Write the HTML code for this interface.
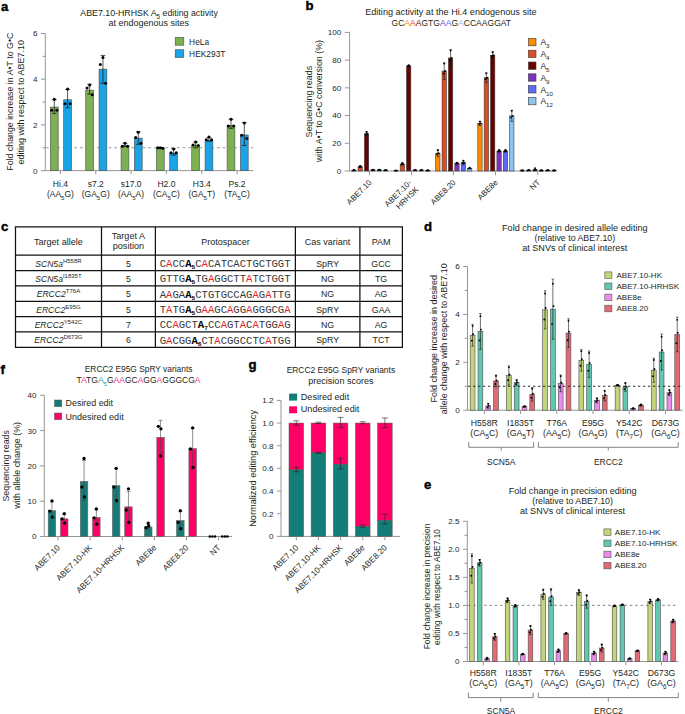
<!DOCTYPE html>
<html><head><meta charset="utf-8"><title>Figure</title>
<style>html,body{margin:0;padding:0;background:#fff;} svg{display:block;}</style>
</head><body>
<svg width="685" height="714" viewBox="0 0 685 714" font-family="Liberation Sans, sans-serif">
<rect width="685" height="714" fill="#fff"/>
<text x="1.00" y="10.50" font-size="13.2" fill="#000" text-anchor="start" font-family="Liberation Sans" font-weight="bold" stroke="#000" stroke-width="0.4">a</text>
<text x="305.60" y="10.40" font-size="13.2" fill="#000" text-anchor="start" font-family="Liberation Sans" font-weight="bold" stroke="#000" stroke-width="0.4">b</text>
<text x="1.00" y="230.50" font-size="13.2" fill="#000" text-anchor="start" font-family="Liberation Sans" font-weight="bold" stroke="#000" stroke-width="0.4">c</text>
<text x="424.00" y="230.70" font-size="13.2" fill="#000" text-anchor="start" font-family="Liberation Sans" font-weight="bold" stroke="#000" stroke-width="0.4">d</text>
<text x="424.00" y="489.00" font-size="13.2" fill="#000" text-anchor="start" font-family="Liberation Sans" font-weight="bold" stroke="#000" stroke-width="0.4">e</text>
<text x="0.50" y="373.80" font-size="13.2" fill="#000" text-anchor="start" font-family="Liberation Sans" font-weight="bold" stroke="#000" stroke-width="0.4">f</text>
<text x="248.60" y="369.00" font-size="13.2" fill="#000" text-anchor="start" font-family="Liberation Sans" font-weight="bold" stroke="#000" stroke-width="0.4">g</text>
<line x1="45.30" y1="33.50" x2="45.30" y2="170.60" stroke="#8a8a8a" stroke-width="0.9"/>
<line x1="41.00" y1="170.60" x2="45.30" y2="170.60" stroke="#8a8a8a" stroke-width="0.9"/>
<text x="37.50" y="173.50" font-size="8.1" fill="#262626" text-anchor="end" font-family="Liberation Sans" >0</text>
<line x1="41.00" y1="124.90" x2="45.30" y2="124.90" stroke="#8a8a8a" stroke-width="0.9"/>
<text x="37.50" y="127.80" font-size="8.1" fill="#262626" text-anchor="end" font-family="Liberation Sans" >2</text>
<line x1="41.00" y1="79.20" x2="45.30" y2="79.20" stroke="#8a8a8a" stroke-width="0.9"/>
<text x="37.50" y="82.10" font-size="8.1" fill="#262626" text-anchor="end" font-family="Liberation Sans" >4</text>
<line x1="41.00" y1="33.50" x2="45.30" y2="33.50" stroke="#8a8a8a" stroke-width="0.9"/>
<text x="37.50" y="36.40" font-size="8.1" fill="#262626" text-anchor="end" font-family="Liberation Sans" >6</text>
<line x1="42.50" y1="147.75" x2="45.30" y2="147.75" stroke="#8a8a8a" stroke-width="0.9"/>
<line x1="42.50" y1="102.05" x2="45.30" y2="102.05" stroke="#8a8a8a" stroke-width="0.9"/>
<line x1="42.50" y1="56.35" x2="45.30" y2="56.35" stroke="#8a8a8a" stroke-width="0.9"/>
<line x1="45.30" y1="170.60" x2="253.30" y2="170.60" stroke="#8a8a8a" stroke-width="0.9"/>
<line x1="45.80" y1="147.75" x2="253.30" y2="147.75" stroke="#999" stroke-width="1.1" stroke-dasharray="2.8,2.9"/>
<rect x="50.40" y="107.08" width="7.80" height="63.52" fill="#7db052" stroke="#4a4a4a" stroke-width="0.6"/>
<line x1="54.30" y1="113.47" x2="54.30" y2="99.76" stroke="#111" stroke-width="0.7"/>
<line x1="51.90" y1="99.76" x2="56.70" y2="99.76" stroke="#111" stroke-width="0.7"/>
<line x1="51.90" y1="113.47" x2="56.70" y2="113.47" stroke="#111" stroke-width="0.7"/>
<circle cx="54.30" cy="99.31" r="1.5" fill="#000"/>
<circle cx="51.70" cy="110.28" r="1.5" fill="#000"/>
<circle cx="56.90" cy="110.28" r="1.5" fill="#000"/>
<rect x="63.70" y="99.76" width="7.80" height="70.84" fill="#1ba3e8" stroke="#4a4a4a" stroke-width="0.6"/>
<line x1="67.60" y1="107.76" x2="67.60" y2="89.48" stroke="#111" stroke-width="0.7"/>
<line x1="65.20" y1="89.48" x2="70.00" y2="89.48" stroke="#111" stroke-width="0.7"/>
<line x1="65.20" y1="107.76" x2="70.00" y2="107.76" stroke="#111" stroke-width="0.7"/>
<circle cx="67.60" cy="89.03" r="1.5" fill="#000"/>
<circle cx="65.00" cy="103.65" r="1.5" fill="#000"/>
<circle cx="70.20" cy="103.65" r="1.5" fill="#000"/>
<line x1="60.40" y1="170.60" x2="60.40" y2="174.20" stroke="#8a8a8a" stroke-width="0.9"/>
<rect x="85.74" y="90.17" width="7.80" height="80.43" fill="#7db052" stroke="#4a4a4a" stroke-width="0.6"/>
<line x1="89.64" y1="94.05" x2="89.64" y2="84.23" stroke="#111" stroke-width="0.7"/>
<line x1="87.24" y1="84.23" x2="92.04" y2="84.23" stroke="#111" stroke-width="0.7"/>
<line x1="87.24" y1="94.05" x2="92.04" y2="94.05" stroke="#111" stroke-width="0.7"/>
<circle cx="89.64" cy="84.91" r="1.5" fill="#000"/>
<circle cx="87.04" cy="87.88" r="1.5" fill="#000"/>
<circle cx="92.24" cy="94.74" r="1.5" fill="#000"/>
<rect x="99.04" y="69.15" width="7.80" height="101.45" fill="#1ba3e8" stroke="#4a4a4a" stroke-width="0.6"/>
<line x1="102.94" y1="83.31" x2="102.94" y2="55.44" stroke="#111" stroke-width="0.7"/>
<line x1="100.54" y1="55.44" x2="105.34" y2="55.44" stroke="#111" stroke-width="0.7"/>
<line x1="100.54" y1="83.31" x2="105.34" y2="83.31" stroke="#111" stroke-width="0.7"/>
<circle cx="102.94" cy="57.49" r="1.5" fill="#000"/>
<circle cx="100.34" cy="64.58" r="1.5" fill="#000"/>
<circle cx="105.54" cy="83.31" r="1.5" fill="#000"/>
<line x1="95.74" y1="170.60" x2="95.74" y2="174.20" stroke="#8a8a8a" stroke-width="0.9"/>
<rect x="121.08" y="145.46" width="7.80" height="25.14" fill="#7db052" stroke="#4a4a4a" stroke-width="0.6"/>
<line x1="124.98" y1="146.61" x2="124.98" y2="143.18" stroke="#111" stroke-width="0.7"/>
<line x1="122.58" y1="143.18" x2="127.38" y2="143.18" stroke="#111" stroke-width="0.7"/>
<line x1="122.58" y1="146.61" x2="127.38" y2="146.61" stroke="#111" stroke-width="0.7"/>
<circle cx="124.98" cy="143.18" r="1.5" fill="#000"/>
<circle cx="122.38" cy="146.15" r="1.5" fill="#000"/>
<circle cx="127.58" cy="146.15" r="1.5" fill="#000"/>
<rect x="134.38" y="138.15" width="7.80" height="32.45" fill="#1ba3e8" stroke="#4a4a4a" stroke-width="0.6"/>
<line x1="138.28" y1="144.32" x2="138.28" y2="131.75" stroke="#111" stroke-width="0.7"/>
<line x1="135.88" y1="131.75" x2="140.68" y2="131.75" stroke="#111" stroke-width="0.7"/>
<line x1="135.88" y1="144.32" x2="140.68" y2="144.32" stroke="#111" stroke-width="0.7"/>
<circle cx="138.28" cy="132.21" r="1.5" fill="#000"/>
<circle cx="135.68" cy="137.47" r="1.5" fill="#000"/>
<circle cx="140.88" cy="143.18" r="1.5" fill="#000"/>
<line x1="131.08" y1="170.60" x2="131.08" y2="174.20" stroke="#8a8a8a" stroke-width="0.9"/>
<rect x="156.42" y="148.21" width="7.80" height="22.39" fill="#7db052" stroke="#4a4a4a" stroke-width="0.6"/>
<line x1="160.32" y1="148.44" x2="160.32" y2="147.52" stroke="#111" stroke-width="0.7"/>
<line x1="157.92" y1="147.52" x2="162.72" y2="147.52" stroke="#111" stroke-width="0.7"/>
<line x1="157.92" y1="148.44" x2="162.72" y2="148.44" stroke="#111" stroke-width="0.7"/>
<circle cx="160.32" cy="147.75" r="1.5" fill="#000"/>
<circle cx="157.72" cy="147.75" r="1.5" fill="#000"/>
<circle cx="162.92" cy="148.21" r="1.5" fill="#000"/>
<rect x="169.72" y="153.23" width="7.80" height="17.37" fill="#1ba3e8" stroke="#4a4a4a" stroke-width="0.6"/>
<line x1="173.62" y1="155.06" x2="173.62" y2="148.89" stroke="#111" stroke-width="0.7"/>
<line x1="171.22" y1="148.89" x2="176.02" y2="148.89" stroke="#111" stroke-width="0.7"/>
<line x1="171.22" y1="155.06" x2="176.02" y2="155.06" stroke="#111" stroke-width="0.7"/>
<circle cx="173.62" cy="148.89" r="1.5" fill="#000"/>
<circle cx="171.02" cy="152.78" r="1.5" fill="#000"/>
<circle cx="176.22" cy="152.78" r="1.5" fill="#000"/>
<line x1="166.42" y1="170.60" x2="166.42" y2="174.20" stroke="#8a8a8a" stroke-width="0.9"/>
<rect x="191.76" y="145.46" width="7.80" height="25.14" fill="#7db052" stroke="#4a4a4a" stroke-width="0.6"/>
<line x1="195.66" y1="147.75" x2="195.66" y2="142.04" stroke="#111" stroke-width="0.7"/>
<line x1="193.26" y1="142.04" x2="198.06" y2="142.04" stroke="#111" stroke-width="0.7"/>
<line x1="193.26" y1="147.75" x2="198.06" y2="147.75" stroke="#111" stroke-width="0.7"/>
<circle cx="195.66" cy="142.04" r="1.5" fill="#000"/>
<circle cx="193.06" cy="145.01" r="1.5" fill="#000"/>
<circle cx="198.26" cy="145.46" r="1.5" fill="#000"/>
<rect x="205.06" y="140.44" width="7.80" height="30.16" fill="#1ba3e8" stroke="#4a4a4a" stroke-width="0.6"/>
<line x1="208.96" y1="141.35" x2="208.96" y2="137.47" stroke="#111" stroke-width="0.7"/>
<line x1="206.56" y1="137.47" x2="211.36" y2="137.47" stroke="#111" stroke-width="0.7"/>
<line x1="206.56" y1="141.35" x2="211.36" y2="141.35" stroke="#111" stroke-width="0.7"/>
<circle cx="208.96" cy="137.01" r="1.5" fill="#000"/>
<circle cx="206.36" cy="139.75" r="1.5" fill="#000"/>
<circle cx="211.56" cy="139.75" r="1.5" fill="#000"/>
<line x1="201.76" y1="170.60" x2="201.76" y2="174.20" stroke="#8a8a8a" stroke-width="0.9"/>
<rect x="227.10" y="125.59" width="7.80" height="45.01" fill="#7db052" stroke="#4a4a4a" stroke-width="0.6"/>
<line x1="231.00" y1="128.33" x2="231.00" y2="119.19" stroke="#111" stroke-width="0.7"/>
<line x1="228.60" y1="119.19" x2="233.40" y2="119.19" stroke="#111" stroke-width="0.7"/>
<line x1="228.60" y1="128.33" x2="233.40" y2="128.33" stroke="#111" stroke-width="0.7"/>
<circle cx="231.00" cy="119.19" r="1.5" fill="#000"/>
<circle cx="228.40" cy="126.04" r="1.5" fill="#000"/>
<circle cx="233.60" cy="126.04" r="1.5" fill="#000"/>
<rect x="240.40" y="134.95" width="7.80" height="35.65" fill="#1ba3e8" stroke="#4a4a4a" stroke-width="0.6"/>
<line x1="244.30" y1="145.46" x2="244.30" y2="122.61" stroke="#111" stroke-width="0.7"/>
<line x1="241.90" y1="122.61" x2="246.70" y2="122.61" stroke="#111" stroke-width="0.7"/>
<line x1="241.90" y1="145.46" x2="246.70" y2="145.46" stroke="#111" stroke-width="0.7"/>
<circle cx="244.30" cy="123.07" r="1.5" fill="#000"/>
<circle cx="241.70" cy="135.18" r="1.5" fill="#000"/>
<circle cx="246.90" cy="138.61" r="1.5" fill="#000"/>
<line x1="237.10" y1="170.60" x2="237.10" y2="174.20" stroke="#8a8a8a" stroke-width="0.9"/>
<text x="60.40" y="186.90" font-size="8.5" fill="#231f20" text-anchor="middle" font-family="Liberation Sans" >Hi.4</text>
<text x="60.40" y="196.80" font-size="8.5" fill="#231f20" text-anchor="middle" font-family="Liberation Sans" >(AA<tspan font-size="6.12" baseline-shift="-2.72">5</tspan>G)</text>
<text x="95.74" y="186.90" font-size="8.5" fill="#231f20" text-anchor="middle" font-family="Liberation Sans" >s7.2</text>
<text x="95.74" y="196.80" font-size="8.5" fill="#231f20" text-anchor="middle" font-family="Liberation Sans" >(GA<tspan font-size="6.12" baseline-shift="-2.72">5</tspan>G)</text>
<text x="131.08" y="186.90" font-size="8.5" fill="#231f20" text-anchor="middle" font-family="Liberation Sans" >s17.0</text>
<text x="131.08" y="196.80" font-size="8.5" fill="#231f20" text-anchor="middle" font-family="Liberation Sans" >(AA<tspan font-size="6.12" baseline-shift="-2.72">5</tspan>A)</text>
<text x="166.42" y="186.90" font-size="8.5" fill="#231f20" text-anchor="middle" font-family="Liberation Sans" >H2.0</text>
<text x="166.42" y="196.80" font-size="8.5" fill="#231f20" text-anchor="middle" font-family="Liberation Sans" >(CA<tspan font-size="6.12" baseline-shift="-2.72">5</tspan>C)</text>
<text x="201.76" y="186.90" font-size="8.5" fill="#231f20" text-anchor="middle" font-family="Liberation Sans" >H3.4</text>
<text x="201.76" y="196.80" font-size="8.5" fill="#231f20" text-anchor="middle" font-family="Liberation Sans" >(GA<tspan font-size="6.12" baseline-shift="-2.72">5</tspan>T)</text>
<text x="237.10" y="186.90" font-size="8.5" fill="#231f20" text-anchor="middle" font-family="Liberation Sans" >Ps.2</text>
<text x="237.10" y="196.80" font-size="8.5" fill="#231f20" text-anchor="middle" font-family="Liberation Sans" >(TA<tspan font-size="6.12" baseline-shift="-2.72">5</tspan>C)</text>
<text x="149.10" y="15.90" font-size="8.8" fill="#231f20" text-anchor="middle" font-family="Liberation Sans" >ABE7.10-HRHSK A<tspan font-size="6.34" baseline-shift="-2.82">5</tspan> editing activity</text>
<text x="148.80" y="26.00" font-size="9.0" fill="#231f20" text-anchor="middle" font-family="Liberation Sans" >at endogenous sites</text>
<rect x="175.20" y="37.40" width="8.60" height="7.80" fill="#7db052" stroke="#4a4a4a" stroke-width="0.6"/>
<rect x="175.20" y="49.70" width="8.60" height="7.80" fill="#1ba3e8" stroke="#4a4a4a" stroke-width="0.6"/>
<text x="189.10" y="44.60" font-size="8.4" fill="#231f20" text-anchor="start" font-family="Liberation Sans" >HeLa</text>
<text x="189.10" y="57.00" font-size="8.4" fill="#231f20" text-anchor="start" font-family="Liberation Sans" >HEK293T</text>
<text x="13.40" y="101.70" font-size="8.8" fill="#231f20" text-anchor="middle" font-family="Liberation Sans" transform="rotate(-90 13.40 101.70)" >Fold change increase in A•T to G•C</text>
<text x="24.10" y="102.20" font-size="9.0" fill="#231f20" text-anchor="middle" font-family="Liberation Sans" transform="rotate(-90 24.10 102.20)" >editing with respect to ABE7.10</text>
<line x1="349.60" y1="32.40" x2="349.60" y2="171.00" stroke="#8a8a8a" stroke-width="0.9"/>
<line x1="344.80" y1="171.00" x2="349.60" y2="171.00" stroke="#8a8a8a" stroke-width="0.9"/>
<text x="341.30" y="173.90" font-size="8.1" fill="#262626" text-anchor="end" font-family="Liberation Sans" >0</text>
<line x1="344.80" y1="143.28" x2="349.60" y2="143.28" stroke="#8a8a8a" stroke-width="0.9"/>
<text x="341.30" y="146.18" font-size="8.1" fill="#262626" text-anchor="end" font-family="Liberation Sans" >20</text>
<line x1="344.80" y1="115.56" x2="349.60" y2="115.56" stroke="#8a8a8a" stroke-width="0.9"/>
<text x="341.30" y="118.46" font-size="8.1" fill="#262626" text-anchor="end" font-family="Liberation Sans" >40</text>
<line x1="344.80" y1="87.84" x2="349.60" y2="87.84" stroke="#8a8a8a" stroke-width="0.9"/>
<text x="341.30" y="90.74" font-size="8.1" fill="#262626" text-anchor="end" font-family="Liberation Sans" >60</text>
<line x1="344.80" y1="60.12" x2="349.60" y2="60.12" stroke="#8a8a8a" stroke-width="0.9"/>
<text x="341.30" y="63.02" font-size="8.1" fill="#262626" text-anchor="end" font-family="Liberation Sans" >80</text>
<line x1="344.80" y1="32.40" x2="349.60" y2="32.40" stroke="#8a8a8a" stroke-width="0.9"/>
<text x="341.30" y="35.30" font-size="8.1" fill="#262626" text-anchor="end" font-family="Liberation Sans" >100</text>
<line x1="349.60" y1="171.00" x2="555.50" y2="171.00" stroke="#8a8a8a" stroke-width="0.9"/>
<rect x="351.70" y="170.31" width="4.30" height="0.69" fill="#ff8c00" stroke="#3a3a3a" stroke-width="0.6"/>
<circle cx="353.85" cy="170.06" r="0.95" fill="#000"/>
<circle cx="353.05" cy="170.39" r="0.95" fill="#000"/>
<circle cx="354.65" cy="170.31" r="0.95" fill="#000"/>
<rect x="358.07" y="166.70" width="4.30" height="4.30" fill="#e04a20" stroke="#3a3a3a" stroke-width="0.6"/>
<line x1="360.22" y1="167.53" x2="360.22" y2="165.87" stroke="#111" stroke-width="0.6"/>
<line x1="358.92" y1="165.87" x2="361.52" y2="165.87" stroke="#111" stroke-width="0.6"/>
<line x1="358.92" y1="167.53" x2="361.52" y2="167.53" stroke="#111" stroke-width="0.6"/>
<circle cx="360.22" cy="165.95" r="0.95" fill="#000"/>
<circle cx="359.42" cy="166.95" r="0.95" fill="#000"/>
<circle cx="361.02" cy="166.70" r="0.95" fill="#000"/>
<rect x="364.44" y="133.86" width="4.30" height="37.14" fill="#6b0000" stroke="#3a3a3a" stroke-width="0.6"/>
<line x1="366.59" y1="135.93" x2="366.59" y2="131.78" stroke="#111" stroke-width="0.6"/>
<line x1="365.29" y1="131.78" x2="367.89" y2="131.78" stroke="#111" stroke-width="0.6"/>
<line x1="365.29" y1="135.93" x2="367.89" y2="135.93" stroke="#111" stroke-width="0.6"/>
<circle cx="366.59" cy="131.98" r="0.95" fill="#000"/>
<circle cx="365.79" cy="134.48" r="0.95" fill="#000"/>
<circle cx="367.39" cy="133.86" r="0.95" fill="#000"/>
<rect x="370.81" y="169.89" width="4.30" height="1.11" fill="#7d32c4" stroke="#3a3a3a" stroke-width="0.6"/>
<circle cx="372.96" cy="169.64" r="0.95" fill="#000"/>
<circle cx="372.16" cy="169.97" r="0.95" fill="#000"/>
<circle cx="373.76" cy="169.89" r="0.95" fill="#000"/>
<rect x="377.18" y="169.89" width="4.30" height="1.11" fill="#5a6cf5" stroke="#3a3a3a" stroke-width="0.6"/>
<circle cx="379.33" cy="169.64" r="0.95" fill="#000"/>
<circle cx="378.53" cy="169.97" r="0.95" fill="#000"/>
<circle cx="380.13" cy="169.89" r="0.95" fill="#000"/>
<rect x="383.55" y="170.17" width="4.30" height="0.83" fill="#8cc4f2" stroke="#3a3a3a" stroke-width="0.6"/>
<circle cx="385.70" cy="169.92" r="0.95" fill="#000"/>
<circle cx="384.90" cy="170.25" r="0.95" fill="#000"/>
<circle cx="386.50" cy="170.17" r="0.95" fill="#000"/>
<line x1="369.40" y1="171.00" x2="369.40" y2="175.20" stroke="#8a8a8a" stroke-width="0.9"/>
<rect x="393.80" y="170.58" width="4.30" height="0.42" fill="#ff8c00" stroke="#3a3a3a" stroke-width="0.6"/>
<circle cx="395.95" cy="170.33" r="0.95" fill="#000"/>
<circle cx="395.15" cy="170.67" r="0.95" fill="#000"/>
<circle cx="396.75" cy="170.58" r="0.95" fill="#000"/>
<rect x="400.17" y="164.07" width="4.30" height="6.93" fill="#e04a20" stroke="#3a3a3a" stroke-width="0.6"/>
<line x1="402.32" y1="165.18" x2="402.32" y2="162.96" stroke="#111" stroke-width="0.6"/>
<line x1="401.02" y1="162.96" x2="403.62" y2="162.96" stroke="#111" stroke-width="0.6"/>
<line x1="401.02" y1="165.18" x2="403.62" y2="165.18" stroke="#111" stroke-width="0.6"/>
<circle cx="402.32" cy="163.07" r="0.95" fill="#000"/>
<circle cx="401.52" cy="164.40" r="0.95" fill="#000"/>
<circle cx="403.12" cy="164.07" r="0.95" fill="#000"/>
<rect x="406.54" y="65.94" width="4.30" height="105.06" fill="#6b0000" stroke="#3a3a3a" stroke-width="0.6"/>
<line x1="408.69" y1="66.63" x2="408.69" y2="65.25" stroke="#111" stroke-width="0.6"/>
<line x1="407.39" y1="65.25" x2="409.99" y2="65.25" stroke="#111" stroke-width="0.6"/>
<line x1="407.39" y1="66.63" x2="409.99" y2="66.63" stroke="#111" stroke-width="0.6"/>
<circle cx="408.69" cy="65.32" r="0.95" fill="#000"/>
<circle cx="407.89" cy="66.15" r="0.95" fill="#000"/>
<circle cx="409.49" cy="65.94" r="0.95" fill="#000"/>
<rect x="412.91" y="170.17" width="4.30" height="0.83" fill="#7d32c4" stroke="#3a3a3a" stroke-width="0.6"/>
<circle cx="415.06" cy="169.92" r="0.95" fill="#000"/>
<circle cx="414.26" cy="170.25" r="0.95" fill="#000"/>
<circle cx="415.86" cy="170.17" r="0.95" fill="#000"/>
<rect x="419.28" y="170.17" width="4.30" height="0.83" fill="#5a6cf5" stroke="#3a3a3a" stroke-width="0.6"/>
<circle cx="421.43" cy="169.92" r="0.95" fill="#000"/>
<circle cx="420.63" cy="170.25" r="0.95" fill="#000"/>
<circle cx="422.23" cy="170.17" r="0.95" fill="#000"/>
<rect x="425.65" y="170.45" width="4.30" height="0.55" fill="#8cc4f2" stroke="#3a3a3a" stroke-width="0.6"/>
<circle cx="427.80" cy="170.20" r="0.95" fill="#000"/>
<circle cx="427.00" cy="170.53" r="0.95" fill="#000"/>
<circle cx="428.60" cy="170.45" r="0.95" fill="#000"/>
<line x1="411.50" y1="171.00" x2="411.50" y2="175.20" stroke="#8a8a8a" stroke-width="0.9"/>
<rect x="435.70" y="153.26" width="4.30" height="17.74" fill="#ff8c00" stroke="#3a3a3a" stroke-width="0.6"/>
<line x1="437.85" y1="156.72" x2="437.85" y2="149.79" stroke="#111" stroke-width="0.6"/>
<line x1="436.55" y1="149.79" x2="439.15" y2="149.79" stroke="#111" stroke-width="0.6"/>
<line x1="436.55" y1="156.72" x2="439.15" y2="156.72" stroke="#111" stroke-width="0.6"/>
<circle cx="437.85" cy="150.14" r="0.95" fill="#000"/>
<circle cx="437.05" cy="154.30" r="0.95" fill="#000"/>
<circle cx="438.65" cy="153.26" r="0.95" fill="#000"/>
<rect x="442.07" y="71.07" width="4.30" height="99.93" fill="#e04a20" stroke="#3a3a3a" stroke-width="0.6"/>
<line x1="444.22" y1="79.39" x2="444.22" y2="62.75" stroke="#111" stroke-width="0.6"/>
<line x1="442.92" y1="62.75" x2="445.52" y2="62.75" stroke="#111" stroke-width="0.6"/>
<line x1="442.92" y1="79.39" x2="445.52" y2="79.39" stroke="#111" stroke-width="0.6"/>
<circle cx="444.22" cy="63.59" r="0.95" fill="#000"/>
<circle cx="443.42" cy="73.56" r="0.95" fill="#000"/>
<circle cx="445.02" cy="71.07" r="0.95" fill="#000"/>
<rect x="448.44" y="58.04" width="4.30" height="112.96" fill="#6b0000" stroke="#3a3a3a" stroke-width="0.6"/>
<line x1="450.59" y1="66.36" x2="450.59" y2="49.73" stroke="#111" stroke-width="0.6"/>
<line x1="449.29" y1="49.73" x2="451.89" y2="49.73" stroke="#111" stroke-width="0.6"/>
<line x1="449.29" y1="66.36" x2="451.89" y2="66.36" stroke="#111" stroke-width="0.6"/>
<circle cx="450.59" cy="50.56" r="0.95" fill="#000"/>
<circle cx="449.79" cy="60.54" r="0.95" fill="#000"/>
<circle cx="451.39" cy="58.04" r="0.95" fill="#000"/>
<rect x="454.81" y="163.38" width="4.30" height="7.62" fill="#7d32c4" stroke="#3a3a3a" stroke-width="0.6"/>
<line x1="456.96" y1="164.07" x2="456.96" y2="162.68" stroke="#111" stroke-width="0.6"/>
<line x1="455.66" y1="162.68" x2="458.26" y2="162.68" stroke="#111" stroke-width="0.6"/>
<line x1="455.66" y1="164.07" x2="458.26" y2="164.07" stroke="#111" stroke-width="0.6"/>
<circle cx="456.96" cy="162.75" r="0.95" fill="#000"/>
<circle cx="456.16" cy="163.58" r="0.95" fill="#000"/>
<circle cx="457.76" cy="163.38" r="0.95" fill="#000"/>
<rect x="461.18" y="162.68" width="4.30" height="8.32" fill="#5a6cf5" stroke="#3a3a3a" stroke-width="0.6"/>
<line x1="463.33" y1="164.76" x2="463.33" y2="160.60" stroke="#111" stroke-width="0.6"/>
<line x1="462.03" y1="160.60" x2="464.63" y2="160.60" stroke="#111" stroke-width="0.6"/>
<line x1="462.03" y1="164.76" x2="464.63" y2="164.76" stroke="#111" stroke-width="0.6"/>
<circle cx="463.33" cy="160.81" r="0.95" fill="#000"/>
<circle cx="462.53" cy="163.31" r="0.95" fill="#000"/>
<circle cx="464.13" cy="162.68" r="0.95" fill="#000"/>
<rect x="467.55" y="168.37" width="4.30" height="2.63" fill="#8cc4f2" stroke="#3a3a3a" stroke-width="0.6"/>
<circle cx="469.70" cy="167.74" r="0.95" fill="#000"/>
<circle cx="468.90" cy="168.57" r="0.95" fill="#000"/>
<circle cx="470.50" cy="168.37" r="0.95" fill="#000"/>
<line x1="453.40" y1="171.00" x2="453.40" y2="175.20" stroke="#8a8a8a" stroke-width="0.9"/>
<rect x="477.80" y="123.46" width="4.30" height="47.54" fill="#ff8c00" stroke="#3a3a3a" stroke-width="0.6"/>
<line x1="479.95" y1="125.54" x2="479.95" y2="121.38" stroke="#111" stroke-width="0.6"/>
<line x1="478.65" y1="121.38" x2="481.25" y2="121.38" stroke="#111" stroke-width="0.6"/>
<line x1="478.65" y1="125.54" x2="481.25" y2="125.54" stroke="#111" stroke-width="0.6"/>
<circle cx="479.95" cy="121.59" r="0.95" fill="#000"/>
<circle cx="479.15" cy="124.08" r="0.95" fill="#000"/>
<circle cx="480.75" cy="123.46" r="0.95" fill="#000"/>
<rect x="484.17" y="77.72" width="4.30" height="93.28" fill="#e04a20" stroke="#3a3a3a" stroke-width="0.6"/>
<line x1="486.32" y1="82.57" x2="486.32" y2="72.87" stroke="#111" stroke-width="0.6"/>
<line x1="485.02" y1="72.87" x2="487.62" y2="72.87" stroke="#111" stroke-width="0.6"/>
<line x1="485.02" y1="82.57" x2="487.62" y2="82.57" stroke="#111" stroke-width="0.6"/>
<circle cx="486.32" cy="73.36" r="0.95" fill="#000"/>
<circle cx="485.52" cy="79.18" r="0.95" fill="#000"/>
<circle cx="487.12" cy="77.72" r="0.95" fill="#000"/>
<rect x="490.54" y="55.27" width="4.30" height="115.73" fill="#6b0000" stroke="#3a3a3a" stroke-width="0.6"/>
<line x1="492.69" y1="58.73" x2="492.69" y2="51.80" stroke="#111" stroke-width="0.6"/>
<line x1="491.39" y1="51.80" x2="493.99" y2="51.80" stroke="#111" stroke-width="0.6"/>
<line x1="491.39" y1="58.73" x2="493.99" y2="58.73" stroke="#111" stroke-width="0.6"/>
<circle cx="492.69" cy="52.15" r="0.95" fill="#000"/>
<circle cx="491.89" cy="56.31" r="0.95" fill="#000"/>
<circle cx="493.49" cy="55.27" r="0.95" fill="#000"/>
<rect x="496.91" y="151.04" width="4.30" height="19.96" fill="#7d32c4" stroke="#3a3a3a" stroke-width="0.6"/>
<line x1="499.06" y1="152.15" x2="499.06" y2="149.93" stroke="#111" stroke-width="0.6"/>
<line x1="497.76" y1="149.93" x2="500.36" y2="149.93" stroke="#111" stroke-width="0.6"/>
<line x1="497.76" y1="152.15" x2="500.36" y2="152.15" stroke="#111" stroke-width="0.6"/>
<circle cx="499.06" cy="150.04" r="0.95" fill="#000"/>
<circle cx="498.26" cy="151.37" r="0.95" fill="#000"/>
<circle cx="499.86" cy="151.04" r="0.95" fill="#000"/>
<rect x="503.28" y="151.04" width="4.30" height="19.96" fill="#5a6cf5" stroke="#3a3a3a" stroke-width="0.6"/>
<line x1="505.43" y1="152.15" x2="505.43" y2="149.93" stroke="#111" stroke-width="0.6"/>
<line x1="504.13" y1="149.93" x2="506.73" y2="149.93" stroke="#111" stroke-width="0.6"/>
<line x1="504.13" y1="152.15" x2="506.73" y2="152.15" stroke="#111" stroke-width="0.6"/>
<circle cx="505.43" cy="150.04" r="0.95" fill="#000"/>
<circle cx="504.63" cy="151.37" r="0.95" fill="#000"/>
<circle cx="506.23" cy="151.04" r="0.95" fill="#000"/>
<rect x="509.65" y="115.84" width="4.30" height="55.16" fill="#8cc4f2" stroke="#3a3a3a" stroke-width="0.6"/>
<line x1="511.80" y1="121.38" x2="511.80" y2="110.29" stroke="#111" stroke-width="0.6"/>
<line x1="510.50" y1="110.29" x2="513.10" y2="110.29" stroke="#111" stroke-width="0.6"/>
<line x1="510.50" y1="121.38" x2="513.10" y2="121.38" stroke="#111" stroke-width="0.6"/>
<circle cx="511.80" cy="110.85" r="0.95" fill="#000"/>
<circle cx="511.00" cy="117.50" r="0.95" fill="#000"/>
<circle cx="512.60" cy="115.84" r="0.95" fill="#000"/>
<line x1="495.50" y1="171.00" x2="495.50" y2="175.20" stroke="#8a8a8a" stroke-width="0.9"/>
<rect x="520.10" y="170.45" width="4.30" height="0.55" fill="#ff8c00" stroke="#3a3a3a" stroke-width="0.6"/>
<circle cx="522.25" cy="170.20" r="0.95" fill="#000"/>
<circle cx="521.45" cy="170.53" r="0.95" fill="#000"/>
<circle cx="523.05" cy="170.45" r="0.95" fill="#000"/>
<rect x="526.47" y="170.31" width="4.30" height="0.69" fill="#e04a20" stroke="#3a3a3a" stroke-width="0.6"/>
<circle cx="528.62" cy="169.93" r="0.95" fill="#000"/>
<circle cx="527.82" cy="170.43" r="0.95" fill="#000"/>
<circle cx="529.42" cy="170.31" r="0.95" fill="#000"/>
<rect x="532.84" y="169.75" width="4.30" height="1.25" fill="#6b0000" stroke="#3a3a3a" stroke-width="0.6"/>
<circle cx="534.99" cy="168.26" r="0.95" fill="#000"/>
<circle cx="534.19" cy="170.25" r="0.95" fill="#000"/>
<circle cx="535.79" cy="169.75" r="0.95" fill="#000"/>
<rect x="539.21" y="170.45" width="4.30" height="0.55" fill="#7d32c4" stroke="#3a3a3a" stroke-width="0.6"/>
<circle cx="541.36" cy="170.20" r="0.95" fill="#000"/>
<circle cx="540.56" cy="170.53" r="0.95" fill="#000"/>
<circle cx="542.16" cy="170.45" r="0.95" fill="#000"/>
<rect x="545.58" y="170.31" width="4.30" height="0.69" fill="#5a6cf5" stroke="#3a3a3a" stroke-width="0.6"/>
<circle cx="547.73" cy="170.06" r="0.95" fill="#000"/>
<circle cx="546.93" cy="170.39" r="0.95" fill="#000"/>
<circle cx="548.53" cy="170.31" r="0.95" fill="#000"/>
<rect x="551.95" y="170.45" width="4.30" height="0.55" fill="#8cc4f2" stroke="#3a3a3a" stroke-width="0.6"/>
<circle cx="554.10" cy="170.20" r="0.95" fill="#000"/>
<circle cx="553.30" cy="170.53" r="0.95" fill="#000"/>
<circle cx="554.90" cy="170.45" r="0.95" fill="#000"/>
<line x1="537.80" y1="171.00" x2="537.80" y2="175.20" stroke="#8a8a8a" stroke-width="0.9"/>
<text x="450.90" y="14.70" font-size="9.1" fill="#231f20" text-anchor="middle" font-family="Liberation Sans" >Editing activity at the Hi.4 endogenous site</text>
<text x="451.30" y="26.00" font-size="8.55" fill="#231f20" text-anchor="middle" font-family="Liberation Sans" >GC<tspan fill="#ff8c00">A</tspan><tspan fill="#e04a20">A</tspan><tspan fill="#6b0000">A</tspan>GTG<tspan fill="#7d32c4">A</tspan><tspan fill="#5a6cf5">A</tspan>G<tspan fill="#8cc4f2">A</tspan>CCAAGGAT</text>
<rect x="528.40" y="38.40" width="7.60" height="7.40" fill="#ff8c00" stroke="#3a3a3a" stroke-width="0.6"/>
<text x="540.40" y="45.30" font-size="8.5" fill="#231f20" text-anchor="start" font-family="Liberation Sans" >A<tspan font-size="6.12" baseline-shift="-2.72">3</tspan></text>
<rect x="528.40" y="50.20" width="7.60" height="7.40" fill="#e04a20" stroke="#3a3a3a" stroke-width="0.6"/>
<text x="540.40" y="57.10" font-size="8.5" fill="#231f20" text-anchor="start" font-family="Liberation Sans" >A<tspan font-size="6.12" baseline-shift="-2.72">4</tspan></text>
<rect x="528.40" y="62.00" width="7.60" height="7.40" fill="#6b0000" stroke="#3a3a3a" stroke-width="0.6"/>
<text x="540.40" y="68.90" font-size="8.5" fill="#231f20" text-anchor="start" font-family="Liberation Sans" >A<tspan font-size="6.12" baseline-shift="-2.72">5</tspan></text>
<rect x="528.40" y="73.80" width="7.60" height="7.40" fill="#7d32c4" stroke="#3a3a3a" stroke-width="0.6"/>
<text x="540.40" y="80.70" font-size="8.5" fill="#231f20" text-anchor="start" font-family="Liberation Sans" >A<tspan font-size="6.12" baseline-shift="-2.72">9</tspan></text>
<rect x="528.40" y="85.60" width="7.60" height="7.40" fill="#5a6cf5" stroke="#3a3a3a" stroke-width="0.6"/>
<text x="540.40" y="92.50" font-size="8.5" fill="#231f20" text-anchor="start" font-family="Liberation Sans" >A<tspan font-size="6.12" baseline-shift="-2.72">10</tspan></text>
<rect x="528.40" y="97.40" width="7.60" height="7.40" fill="#8cc4f2" stroke="#3a3a3a" stroke-width="0.6"/>
<text x="540.40" y="104.30" font-size="8.5" fill="#231f20" text-anchor="start" font-family="Liberation Sans" >A<tspan font-size="6.12" baseline-shift="-2.72">12</tspan></text>
<text x="312.00" y="101.70" font-size="8.9" fill="#231f20" text-anchor="middle" font-family="Liberation Sans" transform="rotate(-90 312.00 101.70)" >Sequencing reads</text>
<text x="321.80" y="101.00" font-size="8.85" fill="#231f20" text-anchor="middle" font-family="Liberation Sans" transform="rotate(-90 321.80 101.00)" >with A•T to G•C conversion (%)</text>
<text x="372.20" y="183.00" font-size="8.0" fill="#231f20" text-anchor="end" font-family="Liberation Sans" transform="rotate(-45 372.20 183.00)" >ABE7.10</text>
<text x="412.10" y="183.10" font-size="8.0" fill="#231f20" text-anchor="end" font-family="Liberation Sans" transform="rotate(-45 412.10 183.10)" >ABE7.10-</text>
<text x="419.00" y="190.00" font-size="8.0" fill="#231f20" text-anchor="end" font-family="Liberation Sans" transform="rotate(-45 419.00 190.00)" >HRHSK</text>
<text x="456.20" y="183.00" font-size="8.0" fill="#231f20" text-anchor="end" font-family="Liberation Sans" transform="rotate(-45 456.20 183.00)" >ABE8.20</text>
<text x="498.30" y="183.00" font-size="8.0" fill="#231f20" text-anchor="end" font-family="Liberation Sans" transform="rotate(-45 498.30 183.00)" >ABE8e</text>
<text x="540.60" y="183.00" font-size="8.0" fill="#231f20" text-anchor="end" font-family="Liberation Sans" transform="rotate(-45 540.60 183.00)" >NT</text>
<line x1="14.90" y1="226.90" x2="403.00" y2="226.90" stroke="#111" stroke-width="1.25"/>
<line x1="14.90" y1="255.20" x2="403.00" y2="255.20" stroke="#111" stroke-width="1.25"/>
<line x1="14.90" y1="270.55" x2="403.00" y2="270.55" stroke="#111" stroke-width="1.25"/>
<line x1="14.90" y1="285.90" x2="403.00" y2="285.90" stroke="#111" stroke-width="1.25"/>
<line x1="14.90" y1="301.25" x2="403.00" y2="301.25" stroke="#111" stroke-width="1.25"/>
<line x1="14.90" y1="316.60" x2="403.00" y2="316.60" stroke="#111" stroke-width="1.25"/>
<line x1="14.90" y1="331.95" x2="403.00" y2="331.95" stroke="#111" stroke-width="1.25"/>
<line x1="14.90" y1="347.30" x2="403.00" y2="347.30" stroke="#111" stroke-width="1.25"/>
<line x1="15.50" y1="226.90" x2="15.50" y2="347.30" stroke="#111" stroke-width="1.25"/>
<line x1="101.50" y1="226.90" x2="101.50" y2="347.30" stroke="#111" stroke-width="1.25"/>
<line x1="155.40" y1="226.90" x2="155.40" y2="347.30" stroke="#111" stroke-width="1.25"/>
<line x1="295.40" y1="226.90" x2="295.40" y2="347.30" stroke="#111" stroke-width="1.25"/>
<line x1="359.90" y1="226.90" x2="359.90" y2="347.30" stroke="#111" stroke-width="1.25"/>
<line x1="402.40" y1="226.90" x2="402.40" y2="347.30" stroke="#111" stroke-width="1.25"/>
<text x="58.40" y="244.80" font-size="9.1" fill="#231f20" text-anchor="middle" font-family="Liberation Sans" >Target allele</text>
<text x="128.40" y="238.80" font-size="9.1" fill="#231f20" text-anchor="middle" font-family="Liberation Sans" >Target A</text>
<text x="128.40" y="248.90" font-size="9.1" fill="#231f20" text-anchor="middle" font-family="Liberation Sans" >position</text>
<text x="225.40" y="244.60" font-size="9.0" fill="#231f20" text-anchor="middle" font-family="Liberation Sans" >Protospacer</text>
<text x="327.60" y="244.60" font-size="9.0" fill="#231f20" text-anchor="middle" font-family="Liberation Sans" >Cas variant</text>
<text x="381.10" y="244.60" font-size="9.0" fill="#231f20" text-anchor="middle" font-family="Liberation Sans" >PAM</text>
<text x="58.4" y="266.60" font-size="8.6" fill="#231f20" text-anchor="middle" font-family="Liberation Sans"><tspan font-style="italic">SCN5a</tspan><tspan font-size="6.0" baseline-shift="3.6">H558R</tspan></text>
<text x="128.40" y="266.60" font-size="8.8" fill="#231f20" text-anchor="middle" font-family="Liberation Sans" >5</text>
<text x="327.60" y="266.60" font-size="8.8" fill="#231f20" text-anchor="middle" font-family="Liberation Sans" >SpRY</text>
<text x="381.10" y="266.60" font-size="8.8" fill="#231f20" text-anchor="middle" font-family="Liberation Sans" >GCC</text>
<text x="159.7" y="266.80" font-size="10.6" fill="#383838" font-family="Liberation Mono">C<tspan fill="#e8221f">A</tspan>CC<tspan font-weight="bold" fill="#000">A</tspan><tspan font-size="6.2" baseline-shift="-2.3" font-weight="bold" fill="#000">5</tspan>C<tspan fill="#e8221f">A</tspan>CATCACTGCTGGT</text>
<text x="58.4" y="281.95" font-size="8.6" fill="#231f20" text-anchor="middle" font-family="Liberation Sans"><tspan font-style="italic">SCN5a</tspan><tspan font-size="6.0" baseline-shift="3.6">I1835T</tspan></text>
<text x="128.40" y="281.95" font-size="8.8" fill="#231f20" text-anchor="middle" font-family="Liberation Sans" >5</text>
<text x="327.60" y="281.95" font-size="8.8" fill="#231f20" text-anchor="middle" font-family="Liberation Sans" >NG</text>
<text x="381.10" y="281.95" font-size="8.8" fill="#231f20" text-anchor="middle" font-family="Liberation Sans" >TG</text>
<text x="159.7" y="282.15" font-size="10.6" fill="#383838" font-family="Liberation Mono">GTTG<tspan font-weight="bold" fill="#000">A</tspan><tspan font-size="6.2" baseline-shift="-2.3" font-weight="bold" fill="#000">5</tspan>TG<tspan fill="#e8221f">A</tspan>GGCTT<tspan fill="#e8221f">A</tspan>TCTGGT</text>
<text x="58.4" y="297.30" font-size="8.6" fill="#231f20" text-anchor="middle" font-family="Liberation Sans"><tspan font-style="italic">ERCC2</tspan><tspan font-size="6.0" baseline-shift="3.6">T76A</tspan></text>
<text x="128.40" y="297.30" font-size="8.8" fill="#231f20" text-anchor="middle" font-family="Liberation Sans" >5</text>
<text x="327.60" y="297.30" font-size="8.8" fill="#231f20" text-anchor="middle" font-family="Liberation Sans" >NG</text>
<text x="381.10" y="297.30" font-size="8.8" fill="#231f20" text-anchor="middle" font-family="Liberation Sans" >AG</text>
<text x="159.7" y="297.50" font-size="10.6" fill="#383838" font-family="Liberation Mono">A<tspan fill="#e8221f">A</tspan>GA<tspan font-weight="bold" fill="#000">A</tspan><tspan font-size="6.2" baseline-shift="-2.3" font-weight="bold" fill="#000">5</tspan>CTGTGCCAG<tspan fill="#e8221f">A</tspan>G<tspan fill="#e8221f">A</tspan>TTG</text>
<text x="58.4" y="312.65" font-size="8.6" fill="#231f20" text-anchor="middle" font-family="Liberation Sans"><tspan font-style="italic">ERCC2</tspan><tspan font-size="6.0" baseline-shift="3.6">E95G</tspan></text>
<text x="128.40" y="312.65" font-size="8.8" fill="#231f20" text-anchor="middle" font-family="Liberation Sans" >5</text>
<text x="327.60" y="312.65" font-size="8.8" fill="#231f20" text-anchor="middle" font-family="Liberation Sans" >SpRY</text>
<text x="381.10" y="312.65" font-size="8.8" fill="#231f20" text-anchor="middle" font-family="Liberation Sans" >GAA</text>
<text x="159.7" y="312.85" font-size="10.6" fill="#383838" font-family="Liberation Mono">T<tspan fill="#e8221f">A</tspan>TG<tspan font-weight="bold" fill="#000">A</tspan><tspan font-size="6.2" baseline-shift="-2.3" font-weight="bold" fill="#000">5</tspan>G<tspan fill="#e8221f">A</tspan><tspan fill="#e8221f">A</tspan>GC<tspan fill="#e8221f">A</tspan>GG<tspan fill="#e8221f">A</tspan>GGGCG<tspan fill="#e8221f">A</tspan></text>
<text x="58.4" y="328.00" font-size="8.6" fill="#231f20" text-anchor="middle" font-family="Liberation Sans"><tspan font-style="italic">ERCC2</tspan><tspan font-size="6.0" baseline-shift="3.6">Y542C</tspan></text>
<text x="128.40" y="328.00" font-size="8.8" fill="#231f20" text-anchor="middle" font-family="Liberation Sans" >7</text>
<text x="327.60" y="328.00" font-size="8.8" fill="#231f20" text-anchor="middle" font-family="Liberation Sans" >NG</text>
<text x="381.10" y="328.00" font-size="8.8" fill="#231f20" text-anchor="middle" font-family="Liberation Sans" >AG</text>
<text x="159.7" y="328.20" font-size="10.6" fill="#383838" font-family="Liberation Mono">CC<tspan fill="#e8221f">A</tspan>GCT<tspan font-weight="bold" fill="#000">A</tspan><tspan font-size="6.2" baseline-shift="-2.3" font-weight="bold" fill="#000">7</tspan>CC<tspan fill="#e8221f">A</tspan>GT<tspan fill="#e8221f">A</tspan>C<tspan fill="#e8221f">A</tspan>TGG<tspan fill="#e8221f">A</tspan>G</text>
<text x="58.4" y="343.35" font-size="8.6" fill="#231f20" text-anchor="middle" font-family="Liberation Sans"><tspan font-style="italic">ERCC2</tspan><tspan font-size="6.0" baseline-shift="3.6">D673G</tspan></text>
<text x="128.40" y="343.35" font-size="8.8" fill="#231f20" text-anchor="middle" font-family="Liberation Sans" >6</text>
<text x="327.60" y="343.35" font-size="8.8" fill="#231f20" text-anchor="middle" font-family="Liberation Sans" >SpRY</text>
<text x="381.10" y="343.35" font-size="8.8" fill="#231f20" text-anchor="middle" font-family="Liberation Sans" >TCT</text>
<text x="159.7" y="343.55" font-size="10.6" fill="#383838" font-family="Liberation Mono">G<tspan fill="#e8221f">A</tspan>CGG<tspan font-weight="bold" fill="#000">A</tspan><tspan font-size="6.2" baseline-shift="-2.3" font-weight="bold" fill="#000">6</tspan>CT<tspan fill="#e8221f">A</tspan>CGGCCTC<tspan fill="#e8221f">A</tspan>TGG</text>
<line x1="467.50" y1="266.50" x2="467.50" y2="410.20" stroke="#8a8a8a" stroke-width="0.9"/>
<line x1="463.20" y1="410.20" x2="467.50" y2="410.20" stroke="#8a8a8a" stroke-width="0.9"/>
<text x="459.70" y="413.10" font-size="8.1" fill="#262626" text-anchor="end" font-family="Liberation Sans" >0</text>
<line x1="463.20" y1="362.30" x2="467.50" y2="362.30" stroke="#8a8a8a" stroke-width="0.9"/>
<text x="459.70" y="365.20" font-size="8.1" fill="#262626" text-anchor="end" font-family="Liberation Sans" >2</text>
<line x1="463.20" y1="314.40" x2="467.50" y2="314.40" stroke="#8a8a8a" stroke-width="0.9"/>
<text x="459.70" y="317.30" font-size="8.1" fill="#262626" text-anchor="end" font-family="Liberation Sans" >4</text>
<line x1="463.20" y1="266.50" x2="467.50" y2="266.50" stroke="#8a8a8a" stroke-width="0.9"/>
<text x="459.70" y="269.40" font-size="8.1" fill="#262626" text-anchor="end" font-family="Liberation Sans" >6</text>
<line x1="464.70" y1="386.25" x2="467.50" y2="386.25" stroke="#8a8a8a" stroke-width="0.9"/>
<line x1="464.70" y1="338.35" x2="467.50" y2="338.35" stroke="#8a8a8a" stroke-width="0.9"/>
<line x1="464.70" y1="290.45" x2="467.50" y2="290.45" stroke="#8a8a8a" stroke-width="0.9"/>
<line x1="467.50" y1="410.20" x2="682.80" y2="410.20" stroke="#8a8a8a" stroke-width="0.9"/>
<rect x="470.20" y="335.24" width="4.80" height="74.96" fill="#c2d57a" stroke="#4a4a4a" stroke-width="0.6"/>
<line x1="472.60" y1="346.01" x2="472.60" y2="324.46" stroke="#111" stroke-width="0.6"/>
<line x1="471.40" y1="324.46" x2="473.80" y2="324.46" stroke="#111" stroke-width="0.6"/>
<line x1="471.40" y1="346.01" x2="473.80" y2="346.01" stroke="#111" stroke-width="0.6"/>
<circle cx="472.60" cy="326.08" r="0.95" fill="#000"/>
<circle cx="471.80" cy="340.63" r="0.95" fill="#000"/>
<circle cx="473.20" cy="334.16" r="0.95" fill="#000"/>
<rect x="478.00" y="331.40" width="4.80" height="78.80" fill="#62c7b0" stroke="#4a4a4a" stroke-width="0.6"/>
<line x1="480.40" y1="349.37" x2="480.40" y2="313.44" stroke="#111" stroke-width="0.6"/>
<line x1="479.20" y1="313.44" x2="481.60" y2="313.44" stroke="#111" stroke-width="0.6"/>
<line x1="479.20" y1="349.37" x2="481.60" y2="349.37" stroke="#111" stroke-width="0.6"/>
<circle cx="480.40" cy="316.14" r="0.95" fill="#000"/>
<circle cx="479.60" cy="340.39" r="0.95" fill="#000"/>
<circle cx="481.00" cy="329.61" r="0.95" fill="#000"/>
<rect x="485.80" y="405.89" width="4.80" height="4.31" fill="#e88de9" stroke="#4a4a4a" stroke-width="0.6"/>
<line x1="488.20" y1="408.28" x2="488.20" y2="403.49" stroke="#111" stroke-width="0.6"/>
<line x1="487.00" y1="403.49" x2="489.40" y2="403.49" stroke="#111" stroke-width="0.6"/>
<line x1="487.00" y1="408.28" x2="489.40" y2="408.28" stroke="#111" stroke-width="0.6"/>
<circle cx="488.20" cy="403.85" r="0.95" fill="#000"/>
<circle cx="487.40" cy="407.09" r="0.95" fill="#000"/>
<circle cx="488.80" cy="405.65" r="0.95" fill="#000"/>
<rect x="493.60" y="380.98" width="4.80" height="29.22" fill="#e06b76" stroke="#4a4a4a" stroke-width="0.6"/>
<line x1="496.00" y1="386.97" x2="496.00" y2="374.99" stroke="#111" stroke-width="0.6"/>
<line x1="494.80" y1="374.99" x2="497.20" y2="374.99" stroke="#111" stroke-width="0.6"/>
<line x1="494.80" y1="386.97" x2="497.20" y2="386.97" stroke="#111" stroke-width="0.6"/>
<circle cx="496.00" cy="375.89" r="0.95" fill="#000"/>
<circle cx="495.20" cy="383.97" r="0.95" fill="#000"/>
<circle cx="496.60" cy="380.38" r="0.95" fill="#000"/>
<line x1="484.30" y1="410.20" x2="484.30" y2="414.00" stroke="#8a8a8a" stroke-width="0.9"/>
<rect x="506.44" y="375.47" width="4.80" height="34.73" fill="#c2d57a" stroke="#4a4a4a" stroke-width="0.6"/>
<line x1="508.84" y1="385.05" x2="508.84" y2="365.89" stroke="#111" stroke-width="0.6"/>
<line x1="507.64" y1="365.89" x2="510.04" y2="365.89" stroke="#111" stroke-width="0.6"/>
<line x1="507.64" y1="385.05" x2="510.04" y2="385.05" stroke="#111" stroke-width="0.6"/>
<circle cx="508.84" cy="367.33" r="0.95" fill="#000"/>
<circle cx="508.04" cy="380.26" r="0.95" fill="#000"/>
<circle cx="509.44" cy="374.51" r="0.95" fill="#000"/>
<rect x="514.24" y="382.66" width="4.80" height="27.54" fill="#62c7b0" stroke="#4a4a4a" stroke-width="0.6"/>
<line x1="516.64" y1="385.53" x2="516.64" y2="379.78" stroke="#111" stroke-width="0.6"/>
<line x1="515.44" y1="379.78" x2="517.84" y2="379.78" stroke="#111" stroke-width="0.6"/>
<line x1="515.44" y1="385.53" x2="517.84" y2="385.53" stroke="#111" stroke-width="0.6"/>
<circle cx="516.64" cy="380.21" r="0.95" fill="#000"/>
<circle cx="515.84" cy="384.09" r="0.95" fill="#000"/>
<circle cx="517.24" cy="382.37" r="0.95" fill="#000"/>
<rect x="522.04" y="406.61" width="4.80" height="3.59" fill="#e88de9" stroke="#4a4a4a" stroke-width="0.6"/>
<line x1="524.44" y1="407.09" x2="524.44" y2="406.13" stroke="#111" stroke-width="0.6"/>
<line x1="523.24" y1="406.13" x2="525.64" y2="406.13" stroke="#111" stroke-width="0.6"/>
<line x1="523.24" y1="407.09" x2="525.64" y2="407.09" stroke="#111" stroke-width="0.6"/>
<circle cx="524.44" cy="406.20" r="0.95" fill="#000"/>
<circle cx="523.64" cy="406.85" r="0.95" fill="#000"/>
<circle cx="525.04" cy="406.56" r="0.95" fill="#000"/>
<rect x="529.84" y="394.39" width="4.80" height="15.81" fill="#e06b76" stroke="#4a4a4a" stroke-width="0.6"/>
<line x1="532.24" y1="401.10" x2="532.24" y2="387.69" stroke="#111" stroke-width="0.6"/>
<line x1="531.04" y1="387.69" x2="533.44" y2="387.69" stroke="#111" stroke-width="0.6"/>
<line x1="531.04" y1="401.10" x2="533.44" y2="401.10" stroke="#111" stroke-width="0.6"/>
<circle cx="532.24" cy="388.69" r="0.95" fill="#000"/>
<circle cx="531.44" cy="397.75" r="0.95" fill="#000"/>
<circle cx="532.84" cy="393.72" r="0.95" fill="#000"/>
<line x1="520.54" y1="410.20" x2="520.54" y2="414.00" stroke="#8a8a8a" stroke-width="0.9"/>
<rect x="542.68" y="309.85" width="4.80" height="100.35" fill="#c2d57a" stroke="#4a4a4a" stroke-width="0.6"/>
<line x1="545.08" y1="329.01" x2="545.08" y2="290.69" stroke="#111" stroke-width="0.6"/>
<line x1="543.88" y1="290.69" x2="546.28" y2="290.69" stroke="#111" stroke-width="0.6"/>
<line x1="543.88" y1="329.01" x2="546.28" y2="329.01" stroke="#111" stroke-width="0.6"/>
<circle cx="545.08" cy="293.56" r="0.95" fill="#000"/>
<circle cx="544.28" cy="319.43" r="0.95" fill="#000"/>
<circle cx="545.68" cy="307.93" r="0.95" fill="#000"/>
<rect x="550.48" y="309.13" width="4.80" height="101.07" fill="#62c7b0" stroke="#4a4a4a" stroke-width="0.6"/>
<line x1="552.88" y1="339.07" x2="552.88" y2="279.19" stroke="#111" stroke-width="0.6"/>
<line x1="551.68" y1="279.19" x2="554.08" y2="279.19" stroke="#111" stroke-width="0.6"/>
<line x1="551.68" y1="339.07" x2="554.08" y2="339.07" stroke="#111" stroke-width="0.6"/>
<circle cx="552.88" cy="283.68" r="0.95" fill="#000"/>
<circle cx="552.08" cy="324.10" r="0.95" fill="#000"/>
<circle cx="553.48" cy="306.14" r="0.95" fill="#000"/>
<rect x="558.28" y="383.38" width="4.80" height="26.82" fill="#e88de9" stroke="#4a4a4a" stroke-width="0.6"/>
<line x1="560.68" y1="391.76" x2="560.68" y2="374.99" stroke="#111" stroke-width="0.6"/>
<line x1="559.48" y1="374.99" x2="561.88" y2="374.99" stroke="#111" stroke-width="0.6"/>
<line x1="559.48" y1="391.76" x2="561.88" y2="391.76" stroke="#111" stroke-width="0.6"/>
<circle cx="560.68" cy="376.25" r="0.95" fill="#000"/>
<circle cx="559.88" cy="387.57" r="0.95" fill="#000"/>
<circle cx="561.28" cy="382.54" r="0.95" fill="#000"/>
<rect x="566.08" y="333.08" width="4.80" height="77.12" fill="#e06b76" stroke="#4a4a4a" stroke-width="0.6"/>
<line x1="568.48" y1="347.45" x2="568.48" y2="318.71" stroke="#111" stroke-width="0.6"/>
<line x1="567.28" y1="318.71" x2="569.68" y2="318.71" stroke="#111" stroke-width="0.6"/>
<line x1="567.28" y1="347.45" x2="569.68" y2="347.45" stroke="#111" stroke-width="0.6"/>
<circle cx="568.48" cy="320.87" r="0.95" fill="#000"/>
<circle cx="567.68" cy="340.27" r="0.95" fill="#000"/>
<circle cx="569.08" cy="331.64" r="0.95" fill="#000"/>
<line x1="556.78" y1="410.20" x2="556.78" y2="414.00" stroke="#8a8a8a" stroke-width="0.9"/>
<rect x="578.92" y="360.38" width="4.80" height="49.82" fill="#c2d57a" stroke="#4a4a4a" stroke-width="0.6"/>
<line x1="581.32" y1="371.16" x2="581.32" y2="349.61" stroke="#111" stroke-width="0.6"/>
<line x1="580.12" y1="349.61" x2="582.52" y2="349.61" stroke="#111" stroke-width="0.6"/>
<line x1="580.12" y1="371.16" x2="582.52" y2="371.16" stroke="#111" stroke-width="0.6"/>
<circle cx="581.32" cy="351.22" r="0.95" fill="#000"/>
<circle cx="580.52" cy="365.77" r="0.95" fill="#000"/>
<circle cx="581.92" cy="359.31" r="0.95" fill="#000"/>
<rect x="586.72" y="364.22" width="4.80" height="45.98" fill="#62c7b0" stroke="#4a4a4a" stroke-width="0.6"/>
<line x1="589.12" y1="377.39" x2="589.12" y2="351.04" stroke="#111" stroke-width="0.6"/>
<line x1="587.92" y1="351.04" x2="590.32" y2="351.04" stroke="#111" stroke-width="0.6"/>
<line x1="587.92" y1="377.39" x2="590.32" y2="377.39" stroke="#111" stroke-width="0.6"/>
<circle cx="589.12" cy="353.02" r="0.95" fill="#000"/>
<circle cx="588.32" cy="370.80" r="0.95" fill="#000"/>
<circle cx="589.72" cy="362.90" r="0.95" fill="#000"/>
<rect x="594.52" y="400.38" width="4.80" height="9.82" fill="#e88de9" stroke="#4a4a4a" stroke-width="0.6"/>
<line x1="596.92" y1="402.78" x2="596.92" y2="397.99" stroke="#111" stroke-width="0.6"/>
<line x1="595.72" y1="397.99" x2="598.12" y2="397.99" stroke="#111" stroke-width="0.6"/>
<line x1="595.72" y1="402.78" x2="598.12" y2="402.78" stroke="#111" stroke-width="0.6"/>
<circle cx="596.92" cy="398.34" r="0.95" fill="#000"/>
<circle cx="596.12" cy="401.58" r="0.95" fill="#000"/>
<circle cx="597.52" cy="400.14" r="0.95" fill="#000"/>
<rect x="602.32" y="395.59" width="4.80" height="14.61" fill="#e06b76" stroke="#4a4a4a" stroke-width="0.6"/>
<line x1="604.72" y1="400.86" x2="604.72" y2="390.32" stroke="#111" stroke-width="0.6"/>
<line x1="603.52" y1="390.32" x2="605.92" y2="390.32" stroke="#111" stroke-width="0.6"/>
<line x1="603.52" y1="400.86" x2="605.92" y2="400.86" stroke="#111" stroke-width="0.6"/>
<circle cx="604.72" cy="391.11" r="0.95" fill="#000"/>
<circle cx="603.92" cy="398.22" r="0.95" fill="#000"/>
<circle cx="605.32" cy="395.06" r="0.95" fill="#000"/>
<line x1="593.02" y1="410.20" x2="593.02" y2="414.00" stroke="#8a8a8a" stroke-width="0.9"/>
<rect x="615.16" y="385.29" width="4.80" height="24.91" fill="#c2d57a" stroke="#4a4a4a" stroke-width="0.6"/>
<line x1="617.56" y1="385.77" x2="617.56" y2="384.81" stroke="#111" stroke-width="0.6"/>
<line x1="616.36" y1="384.81" x2="618.76" y2="384.81" stroke="#111" stroke-width="0.6"/>
<line x1="616.36" y1="385.77" x2="618.76" y2="385.77" stroke="#111" stroke-width="0.6"/>
<circle cx="617.56" cy="384.88" r="0.95" fill="#000"/>
<circle cx="616.76" cy="385.53" r="0.95" fill="#000"/>
<circle cx="618.16" cy="385.24" r="0.95" fill="#000"/>
<rect x="622.96" y="386.97" width="4.80" height="23.23" fill="#62c7b0" stroke="#4a4a4a" stroke-width="0.6"/>
<line x1="625.36" y1="391.28" x2="625.36" y2="382.66" stroke="#111" stroke-width="0.6"/>
<line x1="624.16" y1="382.66" x2="626.56" y2="382.66" stroke="#111" stroke-width="0.6"/>
<line x1="624.16" y1="391.28" x2="626.56" y2="391.28" stroke="#111" stroke-width="0.6"/>
<circle cx="625.36" cy="383.30" r="0.95" fill="#000"/>
<circle cx="624.56" cy="389.12" r="0.95" fill="#000"/>
<circle cx="625.96" cy="386.54" r="0.95" fill="#000"/>
<rect x="630.76" y="408.52" width="4.80" height="1.68" fill="#e88de9" stroke="#4a4a4a" stroke-width="0.6"/>
<line x1="633.16" y1="408.76" x2="633.16" y2="408.28" stroke="#111" stroke-width="0.6"/>
<line x1="631.96" y1="408.28" x2="634.36" y2="408.28" stroke="#111" stroke-width="0.6"/>
<line x1="631.96" y1="408.76" x2="634.36" y2="408.76" stroke="#111" stroke-width="0.6"/>
<circle cx="633.16" cy="408.32" r="0.95" fill="#000"/>
<circle cx="632.36" cy="408.64" r="0.95" fill="#000"/>
<circle cx="633.76" cy="408.50" r="0.95" fill="#000"/>
<rect x="638.56" y="405.17" width="4.80" height="5.03" fill="#e06b76" stroke="#4a4a4a" stroke-width="0.6"/>
<line x1="640.96" y1="405.89" x2="640.96" y2="404.45" stroke="#111" stroke-width="0.6"/>
<line x1="639.76" y1="404.45" x2="642.16" y2="404.45" stroke="#111" stroke-width="0.6"/>
<line x1="639.76" y1="405.89" x2="642.16" y2="405.89" stroke="#111" stroke-width="0.6"/>
<circle cx="640.96" cy="404.56" r="0.95" fill="#000"/>
<circle cx="640.16" cy="405.53" r="0.95" fill="#000"/>
<circle cx="641.56" cy="405.10" r="0.95" fill="#000"/>
<line x1="629.26" y1="410.20" x2="629.26" y2="414.00" stroke="#8a8a8a" stroke-width="0.9"/>
<rect x="651.40" y="370.20" width="4.80" height="40.00" fill="#c2d57a" stroke="#4a4a4a" stroke-width="0.6"/>
<line x1="653.80" y1="382.18" x2="653.80" y2="358.23" stroke="#111" stroke-width="0.6"/>
<line x1="652.60" y1="358.23" x2="655.00" y2="358.23" stroke="#111" stroke-width="0.6"/>
<line x1="652.60" y1="382.18" x2="655.00" y2="382.18" stroke="#111" stroke-width="0.6"/>
<circle cx="653.80" cy="360.02" r="0.95" fill="#000"/>
<circle cx="653.00" cy="376.19" r="0.95" fill="#000"/>
<circle cx="654.40" cy="369.01" r="0.95" fill="#000"/>
<rect x="659.20" y="352.00" width="4.80" height="58.20" fill="#62c7b0" stroke="#4a4a4a" stroke-width="0.6"/>
<line x1="661.60" y1="369.96" x2="661.60" y2="334.04" stroke="#111" stroke-width="0.6"/>
<line x1="660.40" y1="334.04" x2="662.80" y2="334.04" stroke="#111" stroke-width="0.6"/>
<line x1="660.40" y1="369.96" x2="662.80" y2="369.96" stroke="#111" stroke-width="0.6"/>
<circle cx="661.60" cy="336.73" r="0.95" fill="#000"/>
<circle cx="660.80" cy="360.98" r="0.95" fill="#000"/>
<circle cx="662.20" cy="350.21" r="0.95" fill="#000"/>
<rect x="667.00" y="392.72" width="4.80" height="17.48" fill="#e88de9" stroke="#4a4a4a" stroke-width="0.6"/>
<line x1="669.40" y1="395.59" x2="669.40" y2="389.84" stroke="#111" stroke-width="0.6"/>
<line x1="668.20" y1="389.84" x2="670.60" y2="389.84" stroke="#111" stroke-width="0.6"/>
<line x1="668.20" y1="395.59" x2="670.60" y2="395.59" stroke="#111" stroke-width="0.6"/>
<circle cx="669.40" cy="390.27" r="0.95" fill="#000"/>
<circle cx="668.60" cy="394.15" r="0.95" fill="#000"/>
<circle cx="670.00" cy="392.43" r="0.95" fill="#000"/>
<rect x="674.80" y="334.52" width="4.80" height="75.68" fill="#e06b76" stroke="#4a4a4a" stroke-width="0.6"/>
<line x1="677.20" y1="351.76" x2="677.20" y2="317.27" stroke="#111" stroke-width="0.6"/>
<line x1="676.00" y1="317.27" x2="678.40" y2="317.27" stroke="#111" stroke-width="0.6"/>
<line x1="676.00" y1="351.76" x2="678.40" y2="351.76" stroke="#111" stroke-width="0.6"/>
<circle cx="677.20" cy="319.86" r="0.95" fill="#000"/>
<circle cx="676.40" cy="343.14" r="0.95" fill="#000"/>
<circle cx="677.80" cy="332.79" r="0.95" fill="#000"/>
<line x1="665.50" y1="410.20" x2="665.50" y2="414.00" stroke="#8a8a8a" stroke-width="0.9"/>
<line x1="468.00" y1="386.25" x2="682.80" y2="386.25" stroke="#2a2a2a" stroke-width="1.0" stroke-dasharray="2.3,2.7"/>
<text x="484.30" y="425.50" font-size="8.7" fill="#231f20" text-anchor="middle" font-family="Liberation Sans" >H558R</text>
<text x="484.30" y="436.30" font-size="8.8" fill="#231f20" text-anchor="middle" font-family="Liberation Sans" >(CA<tspan font-size="6.34" baseline-shift="-2.82">5</tspan>C)</text>
<text x="520.54" y="425.50" font-size="8.7" fill="#231f20" text-anchor="middle" font-family="Liberation Sans" >I1835T</text>
<text x="520.54" y="436.30" font-size="8.8" fill="#231f20" text-anchor="middle" font-family="Liberation Sans" >(GA<tspan font-size="6.34" baseline-shift="-2.82">5</tspan>T)</text>
<text x="556.78" y="425.50" font-size="8.7" fill="#231f20" text-anchor="middle" font-family="Liberation Sans" >T76A</text>
<text x="556.78" y="436.30" font-size="8.8" fill="#231f20" text-anchor="middle" font-family="Liberation Sans" >(AA<tspan font-size="6.34" baseline-shift="-2.82">5</tspan>C)</text>
<text x="593.02" y="425.50" font-size="8.7" fill="#231f20" text-anchor="middle" font-family="Liberation Sans" >E95G</text>
<text x="593.02" y="436.30" font-size="8.8" fill="#231f20" text-anchor="middle" font-family="Liberation Sans" >(GA<tspan font-size="6.34" baseline-shift="-2.82">5</tspan>G)</text>
<text x="629.26" y="425.50" font-size="8.7" fill="#231f20" text-anchor="middle" font-family="Liberation Sans" >Y542C</text>
<text x="629.26" y="436.30" font-size="8.8" fill="#231f20" text-anchor="middle" font-family="Liberation Sans" >(TA<tspan font-size="6.34" baseline-shift="-2.82">7</tspan>C)</text>
<text x="665.50" y="425.50" font-size="8.7" fill="#231f20" text-anchor="middle" font-family="Liberation Sans" >D673G</text>
<text x="665.50" y="436.30" font-size="8.8" fill="#231f20" text-anchor="middle" font-family="Liberation Sans" >(GA<tspan font-size="6.34" baseline-shift="-2.82">6</tspan>C)</text>
<text x="574.80" y="231.00" font-size="9.15" fill="#231f20" text-anchor="middle" font-family="Liberation Sans" >Fold change in desired allele editing</text>
<text x="574.80" y="240.80" font-size="8.8" fill="#231f20" text-anchor="middle" font-family="Liberation Sans" >(relative to ABE7.10)</text>
<text x="574.80" y="250.70" font-size="9.05" fill="#231f20" text-anchor="middle" font-family="Liberation Sans" >at SNVs of clinical interest</text>
<rect x="604.80" y="271.90" width="7.10" height="6.60" fill="#c2d57a" stroke="#555" stroke-width="0.6"/>
<text x="616.40" y="278.00" font-size="8.05" fill="#231f20" text-anchor="start" font-family="Liberation Sans" >ABE7.10-HK</text>
<rect x="604.80" y="283.00" width="7.10" height="6.60" fill="#62c7b0" stroke="#555" stroke-width="0.6"/>
<text x="616.40" y="288.97" font-size="8.05" fill="#231f20" text-anchor="start" font-family="Liberation Sans" >ABE7.10-HRHSK</text>
<rect x="604.80" y="294.10" width="7.10" height="6.60" fill="#e88de9" stroke="#555" stroke-width="0.6"/>
<text x="616.40" y="299.94" font-size="8.05" fill="#231f20" text-anchor="start" font-family="Liberation Sans" >ABE8e</text>
<rect x="604.80" y="305.20" width="7.10" height="6.60" fill="#e06b76" stroke="#555" stroke-width="0.6"/>
<text x="616.40" y="310.91" font-size="8.05" fill="#231f20" text-anchor="start" font-family="Liberation Sans" >ABE8.20</text>
<text x="437.20" y="338.70" font-size="9.0" fill="#231f20" text-anchor="middle" font-family="Liberation Sans" transform="rotate(-90 437.20 338.70)" >Fold change increase in desired</text>
<text x="447.40" y="338.70" font-size="9.0" fill="#231f20" text-anchor="middle" font-family="Liberation Sans" transform="rotate(-90 447.40 338.70)" >allele change with respect to ABE7.10</text>
<path d="M468.80,442.10 V447.30 H533.60 V442.10" fill="none" stroke="#777" stroke-width="0.9"/>
<line x1="501.20" y1="447.30" x2="501.20" y2="450.50" stroke="#777" stroke-width="0.9"/>
<path d="M538.40,442.10 V447.30 H678.20 V442.10" fill="none" stroke="#777" stroke-width="0.9"/>
<line x1="608.30" y1="447.30" x2="608.30" y2="450.50" stroke="#777" stroke-width="0.9"/>
<text x="501.20" y="464.50" font-size="8.5" fill="#231f20" text-anchor="middle" font-family="Liberation Sans" >SCN5A</text>
<text x="608.30" y="464.50" font-size="8.5" fill="#231f20" text-anchor="middle" font-family="Liberation Sans" >ERCC2</text>
<line x1="467.30" y1="521.30" x2="467.30" y2="661.50" stroke="#8a8a8a" stroke-width="0.9"/>
<line x1="463.00" y1="661.50" x2="467.30" y2="661.50" stroke="#8a8a8a" stroke-width="0.9"/>
<text x="459.50" y="664.40" font-size="8.1" fill="#262626" text-anchor="end" font-family="Liberation Sans" >0</text>
<line x1="463.00" y1="633.46" x2="467.30" y2="633.46" stroke="#8a8a8a" stroke-width="0.9"/>
<text x="459.50" y="636.36" font-size="8.1" fill="#262626" text-anchor="end" font-family="Liberation Sans" >0.5</text>
<line x1="463.00" y1="605.42" x2="467.30" y2="605.42" stroke="#8a8a8a" stroke-width="0.9"/>
<text x="459.50" y="608.32" font-size="8.1" fill="#262626" text-anchor="end" font-family="Liberation Sans" >1.0</text>
<line x1="463.00" y1="577.38" x2="467.30" y2="577.38" stroke="#8a8a8a" stroke-width="0.9"/>
<text x="459.50" y="580.28" font-size="8.1" fill="#262626" text-anchor="end" font-family="Liberation Sans" >1.5</text>
<line x1="463.00" y1="549.34" x2="467.30" y2="549.34" stroke="#8a8a8a" stroke-width="0.9"/>
<text x="459.50" y="552.24" font-size="8.1" fill="#262626" text-anchor="end" font-family="Liberation Sans" >2.0</text>
<line x1="463.00" y1="521.30" x2="467.30" y2="521.30" stroke="#8a8a8a" stroke-width="0.9"/>
<text x="459.50" y="524.20" font-size="8.1" fill="#262626" text-anchor="end" font-family="Liberation Sans" >2.5</text>
<line x1="464.50" y1="647.48" x2="467.30" y2="647.48" stroke="#8a8a8a" stroke-width="0.9"/>
<line x1="464.50" y1="619.44" x2="467.30" y2="619.44" stroke="#8a8a8a" stroke-width="0.9"/>
<line x1="464.50" y1="591.40" x2="467.30" y2="591.40" stroke="#8a8a8a" stroke-width="0.9"/>
<line x1="464.50" y1="563.36" x2="467.30" y2="563.36" stroke="#8a8a8a" stroke-width="0.9"/>
<line x1="464.50" y1="535.32" x2="467.30" y2="535.32" stroke="#8a8a8a" stroke-width="0.9"/>
<line x1="467.30" y1="661.50" x2="678.30" y2="661.50" stroke="#8a8a8a" stroke-width="0.9"/>
<line x1="467.80" y1="605.42" x2="678.30" y2="605.42" stroke="#9a9a9a" stroke-width="1.1" stroke-dasharray="2.5,2.9"/>
<rect x="469.60" y="568.41" width="4.60" height="93.09" fill="#c2d57a" stroke="#4a4a4a" stroke-width="0.6"/>
<line x1="471.90" y1="582.99" x2="471.90" y2="553.83" stroke="#111" stroke-width="0.6"/>
<line x1="470.70" y1="553.83" x2="473.10" y2="553.83" stroke="#111" stroke-width="0.6"/>
<line x1="470.70" y1="582.99" x2="473.10" y2="582.99" stroke="#111" stroke-width="0.6"/>
<circle cx="471.90" cy="556.01" r="0.95" fill="#000"/>
<circle cx="471.10" cy="575.70" r="0.95" fill="#000"/>
<circle cx="472.50" cy="566.95" r="0.95" fill="#000"/>
<rect x="477.40" y="562.80" width="4.60" height="98.70" fill="#62c7b0" stroke="#4a4a4a" stroke-width="0.6"/>
<line x1="479.70" y1="566.16" x2="479.70" y2="559.43" stroke="#111" stroke-width="0.6"/>
<line x1="478.50" y1="559.43" x2="480.90" y2="559.43" stroke="#111" stroke-width="0.6"/>
<line x1="478.50" y1="566.16" x2="480.90" y2="566.16" stroke="#111" stroke-width="0.6"/>
<circle cx="479.70" cy="559.94" r="0.95" fill="#000"/>
<circle cx="478.90" cy="564.48" r="0.95" fill="#000"/>
<circle cx="480.30" cy="562.46" r="0.95" fill="#000"/>
<rect x="484.80" y="658.70" width="4.60" height="2.80" fill="#e88de9" stroke="#4a4a4a" stroke-width="0.6"/>
<line x1="487.10" y1="659.82" x2="487.10" y2="657.57" stroke="#111" stroke-width="0.6"/>
<line x1="485.90" y1="657.57" x2="488.30" y2="657.57" stroke="#111" stroke-width="0.6"/>
<line x1="485.90" y1="659.82" x2="488.30" y2="659.82" stroke="#111" stroke-width="0.6"/>
<circle cx="487.10" cy="657.74" r="0.95" fill="#000"/>
<circle cx="486.30" cy="659.26" r="0.95" fill="#000"/>
<circle cx="487.70" cy="658.58" r="0.95" fill="#000"/>
<rect x="492.50" y="636.82" width="4.60" height="24.68" fill="#e06b76" stroke="#4a4a4a" stroke-width="0.6"/>
<line x1="494.80" y1="640.19" x2="494.80" y2="633.46" stroke="#111" stroke-width="0.6"/>
<line x1="493.60" y1="633.46" x2="496.00" y2="633.46" stroke="#111" stroke-width="0.6"/>
<line x1="493.60" y1="640.19" x2="496.00" y2="640.19" stroke="#111" stroke-width="0.6"/>
<circle cx="494.80" cy="633.96" r="0.95" fill="#000"/>
<circle cx="494.00" cy="638.51" r="0.95" fill="#000"/>
<circle cx="495.40" cy="636.49" r="0.95" fill="#000"/>
<line x1="483.20" y1="661.50" x2="483.20" y2="665.30" stroke="#8a8a8a" stroke-width="0.9"/>
<rect x="505.26" y="600.37" width="4.60" height="61.13" fill="#c2d57a" stroke="#4a4a4a" stroke-width="0.6"/>
<line x1="507.56" y1="602.62" x2="507.56" y2="598.13" stroke="#111" stroke-width="0.6"/>
<line x1="506.36" y1="598.13" x2="508.76" y2="598.13" stroke="#111" stroke-width="0.6"/>
<line x1="506.36" y1="602.62" x2="508.76" y2="602.62" stroke="#111" stroke-width="0.6"/>
<circle cx="507.56" cy="598.47" r="0.95" fill="#000"/>
<circle cx="506.76" cy="601.49" r="0.95" fill="#000"/>
<circle cx="508.16" cy="600.15" r="0.95" fill="#000"/>
<rect x="513.06" y="605.98" width="4.60" height="55.52" fill="#62c7b0" stroke="#4a4a4a" stroke-width="0.6"/>
<line x1="515.36" y1="607.10" x2="515.36" y2="604.86" stroke="#111" stroke-width="0.6"/>
<line x1="514.16" y1="604.86" x2="516.56" y2="604.86" stroke="#111" stroke-width="0.6"/>
<line x1="514.16" y1="607.10" x2="516.56" y2="607.10" stroke="#111" stroke-width="0.6"/>
<circle cx="515.36" cy="605.03" r="0.95" fill="#000"/>
<circle cx="514.56" cy="606.54" r="0.95" fill="#000"/>
<circle cx="515.96" cy="605.87" r="0.95" fill="#000"/>
<rect x="520.46" y="654.21" width="4.60" height="7.29" fill="#e88de9" stroke="#4a4a4a" stroke-width="0.6"/>
<line x1="522.76" y1="654.77" x2="522.76" y2="653.65" stroke="#111" stroke-width="0.6"/>
<line x1="521.56" y1="653.65" x2="523.96" y2="653.65" stroke="#111" stroke-width="0.6"/>
<line x1="521.56" y1="654.77" x2="523.96" y2="654.77" stroke="#111" stroke-width="0.6"/>
<circle cx="522.76" cy="653.73" r="0.95" fill="#000"/>
<circle cx="521.96" cy="654.49" r="0.95" fill="#000"/>
<circle cx="523.36" cy="654.15" r="0.95" fill="#000"/>
<rect x="528.16" y="630.10" width="4.60" height="31.40" fill="#e06b76" stroke="#4a4a4a" stroke-width="0.6"/>
<line x1="530.46" y1="634.58" x2="530.46" y2="625.61" stroke="#111" stroke-width="0.6"/>
<line x1="529.26" y1="625.61" x2="531.66" y2="625.61" stroke="#111" stroke-width="0.6"/>
<line x1="529.26" y1="634.58" x2="531.66" y2="634.58" stroke="#111" stroke-width="0.6"/>
<circle cx="530.46" cy="626.28" r="0.95" fill="#000"/>
<circle cx="529.66" cy="632.34" r="0.95" fill="#000"/>
<circle cx="531.06" cy="629.65" r="0.95" fill="#000"/>
<line x1="518.86" y1="661.50" x2="518.86" y2="665.30" stroke="#8a8a8a" stroke-width="0.9"/>
<rect x="540.92" y="594.20" width="4.60" height="67.30" fill="#c2d57a" stroke="#4a4a4a" stroke-width="0.6"/>
<line x1="543.22" y1="599.25" x2="543.22" y2="589.16" stroke="#111" stroke-width="0.6"/>
<line x1="542.02" y1="589.16" x2="544.42" y2="589.16" stroke="#111" stroke-width="0.6"/>
<line x1="542.02" y1="599.25" x2="544.42" y2="599.25" stroke="#111" stroke-width="0.6"/>
<circle cx="543.22" cy="589.91" r="0.95" fill="#000"/>
<circle cx="542.42" cy="596.73" r="0.95" fill="#000"/>
<circle cx="543.82" cy="593.70" r="0.95" fill="#000"/>
<rect x="548.72" y="597.01" width="4.60" height="64.49" fill="#62c7b0" stroke="#4a4a4a" stroke-width="0.6"/>
<line x1="551.02" y1="605.42" x2="551.02" y2="588.60" stroke="#111" stroke-width="0.6"/>
<line x1="549.82" y1="588.60" x2="552.22" y2="588.60" stroke="#111" stroke-width="0.6"/>
<line x1="549.82" y1="605.42" x2="552.22" y2="605.42" stroke="#111" stroke-width="0.6"/>
<circle cx="551.02" cy="589.86" r="0.95" fill="#000"/>
<circle cx="550.22" cy="601.21" r="0.95" fill="#000"/>
<circle cx="551.62" cy="596.17" r="0.95" fill="#000"/>
<rect x="556.12" y="650.84" width="4.60" height="10.66" fill="#e88de9" stroke="#4a4a4a" stroke-width="0.6"/>
<line x1="558.42" y1="652.53" x2="558.42" y2="649.16" stroke="#111" stroke-width="0.6"/>
<line x1="557.22" y1="649.16" x2="559.62" y2="649.16" stroke="#111" stroke-width="0.6"/>
<line x1="557.22" y1="652.53" x2="559.62" y2="652.53" stroke="#111" stroke-width="0.6"/>
<circle cx="558.42" cy="649.41" r="0.95" fill="#000"/>
<circle cx="557.62" cy="651.69" r="0.95" fill="#000"/>
<circle cx="559.02" cy="650.68" r="0.95" fill="#000"/>
<rect x="563.82" y="633.46" width="4.60" height="28.04" fill="#e06b76" stroke="#4a4a4a" stroke-width="0.6"/>
<line x1="566.12" y1="634.02" x2="566.12" y2="632.90" stroke="#111" stroke-width="0.6"/>
<line x1="564.92" y1="632.90" x2="567.32" y2="632.90" stroke="#111" stroke-width="0.6"/>
<line x1="564.92" y1="634.02" x2="567.32" y2="634.02" stroke="#111" stroke-width="0.6"/>
<circle cx="566.12" cy="632.98" r="0.95" fill="#000"/>
<circle cx="565.32" cy="633.74" r="0.95" fill="#000"/>
<circle cx="566.72" cy="633.40" r="0.95" fill="#000"/>
<line x1="554.52" y1="661.50" x2="554.52" y2="665.30" stroke="#8a8a8a" stroke-width="0.9"/>
<rect x="576.58" y="592.52" width="4.60" height="68.98" fill="#c2d57a" stroke="#4a4a4a" stroke-width="0.6"/>
<line x1="578.88" y1="595.33" x2="578.88" y2="589.72" stroke="#111" stroke-width="0.6"/>
<line x1="577.68" y1="589.72" x2="580.08" y2="589.72" stroke="#111" stroke-width="0.6"/>
<line x1="577.68" y1="595.33" x2="580.08" y2="595.33" stroke="#111" stroke-width="0.6"/>
<circle cx="578.88" cy="590.14" r="0.95" fill="#000"/>
<circle cx="578.08" cy="593.92" r="0.95" fill="#000"/>
<circle cx="579.48" cy="592.24" r="0.95" fill="#000"/>
<rect x="584.38" y="601.49" width="4.60" height="60.01" fill="#62c7b0" stroke="#4a4a4a" stroke-width="0.6"/>
<line x1="586.68" y1="608.22" x2="586.68" y2="594.76" stroke="#111" stroke-width="0.6"/>
<line x1="585.48" y1="594.76" x2="587.88" y2="594.76" stroke="#111" stroke-width="0.6"/>
<line x1="585.48" y1="608.22" x2="587.88" y2="608.22" stroke="#111" stroke-width="0.6"/>
<circle cx="586.68" cy="595.77" r="0.95" fill="#000"/>
<circle cx="585.88" cy="604.86" r="0.95" fill="#000"/>
<circle cx="587.28" cy="600.82" r="0.95" fill="#000"/>
<rect x="591.78" y="653.09" width="4.60" height="8.41" fill="#e88de9" stroke="#4a4a4a" stroke-width="0.6"/>
<line x1="594.08" y1="654.77" x2="594.08" y2="651.41" stroke="#111" stroke-width="0.6"/>
<line x1="592.88" y1="651.41" x2="595.28" y2="651.41" stroke="#111" stroke-width="0.6"/>
<line x1="592.88" y1="654.77" x2="595.28" y2="654.77" stroke="#111" stroke-width="0.6"/>
<circle cx="594.08" cy="651.66" r="0.95" fill="#000"/>
<circle cx="593.28" cy="653.93" r="0.95" fill="#000"/>
<circle cx="594.68" cy="652.92" r="0.95" fill="#000"/>
<rect x="599.48" y="648.04" width="4.60" height="13.46" fill="#e06b76" stroke="#4a4a4a" stroke-width="0.6"/>
<line x1="601.78" y1="651.97" x2="601.78" y2="644.12" stroke="#111" stroke-width="0.6"/>
<line x1="600.58" y1="644.12" x2="602.98" y2="644.12" stroke="#111" stroke-width="0.6"/>
<line x1="600.58" y1="651.97" x2="602.98" y2="651.97" stroke="#111" stroke-width="0.6"/>
<circle cx="601.78" cy="644.70" r="0.95" fill="#000"/>
<circle cx="600.98" cy="650.00" r="0.95" fill="#000"/>
<circle cx="602.38" cy="647.65" r="0.95" fill="#000"/>
<line x1="590.18" y1="661.50" x2="590.18" y2="665.30" stroke="#8a8a8a" stroke-width="0.9"/>
<rect x="612.24" y="605.98" width="4.60" height="55.52" fill="#c2d57a" stroke="#4a4a4a" stroke-width="0.6"/>
<line x1="614.54" y1="606.54" x2="614.54" y2="605.42" stroke="#111" stroke-width="0.6"/>
<line x1="613.34" y1="605.42" x2="615.74" y2="605.42" stroke="#111" stroke-width="0.6"/>
<line x1="613.34" y1="606.54" x2="615.74" y2="606.54" stroke="#111" stroke-width="0.6"/>
<circle cx="614.54" cy="605.50" r="0.95" fill="#000"/>
<circle cx="613.74" cy="606.26" r="0.95" fill="#000"/>
<circle cx="615.14" cy="605.92" r="0.95" fill="#000"/>
<rect x="620.04" y="604.86" width="4.60" height="56.64" fill="#62c7b0" stroke="#4a4a4a" stroke-width="0.6"/>
<line x1="622.34" y1="605.42" x2="622.34" y2="604.30" stroke="#111" stroke-width="0.6"/>
<line x1="621.14" y1="604.30" x2="623.54" y2="604.30" stroke="#111" stroke-width="0.6"/>
<line x1="621.14" y1="605.42" x2="623.54" y2="605.42" stroke="#111" stroke-width="0.6"/>
<circle cx="622.34" cy="604.38" r="0.95" fill="#000"/>
<circle cx="621.54" cy="605.14" r="0.95" fill="#000"/>
<circle cx="622.94" cy="604.80" r="0.95" fill="#000"/>
<rect x="627.44" y="658.70" width="4.60" height="2.80" fill="#e88de9" stroke="#4a4a4a" stroke-width="0.6"/>
<line x1="629.74" y1="659.26" x2="629.74" y2="658.14" stroke="#111" stroke-width="0.6"/>
<line x1="628.54" y1="658.14" x2="630.94" y2="658.14" stroke="#111" stroke-width="0.6"/>
<line x1="628.54" y1="659.26" x2="630.94" y2="659.26" stroke="#111" stroke-width="0.6"/>
<circle cx="629.74" cy="658.22" r="0.95" fill="#000"/>
<circle cx="628.94" cy="658.98" r="0.95" fill="#000"/>
<circle cx="630.34" cy="658.64" r="0.95" fill="#000"/>
<rect x="635.14" y="650.84" width="4.60" height="10.66" fill="#e06b76" stroke="#4a4a4a" stroke-width="0.6"/>
<line x1="637.44" y1="651.41" x2="637.44" y2="650.28" stroke="#111" stroke-width="0.6"/>
<line x1="636.24" y1="650.28" x2="638.64" y2="650.28" stroke="#111" stroke-width="0.6"/>
<line x1="636.24" y1="651.41" x2="638.64" y2="651.41" stroke="#111" stroke-width="0.6"/>
<circle cx="637.44" cy="650.37" r="0.95" fill="#000"/>
<circle cx="636.64" cy="651.13" r="0.95" fill="#000"/>
<circle cx="638.04" cy="650.79" r="0.95" fill="#000"/>
<line x1="625.84" y1="661.50" x2="625.84" y2="665.30" stroke="#8a8a8a" stroke-width="0.9"/>
<rect x="647.90" y="601.49" width="4.60" height="60.01" fill="#c2d57a" stroke="#4a4a4a" stroke-width="0.6"/>
<line x1="650.20" y1="603.74" x2="650.20" y2="599.25" stroke="#111" stroke-width="0.6"/>
<line x1="649.00" y1="599.25" x2="651.40" y2="599.25" stroke="#111" stroke-width="0.6"/>
<line x1="649.00" y1="603.74" x2="651.40" y2="603.74" stroke="#111" stroke-width="0.6"/>
<circle cx="650.20" cy="599.59" r="0.95" fill="#000"/>
<circle cx="649.40" cy="602.62" r="0.95" fill="#000"/>
<circle cx="650.80" cy="601.27" r="0.95" fill="#000"/>
<rect x="655.70" y="599.81" width="4.60" height="61.69" fill="#62c7b0" stroke="#4a4a4a" stroke-width="0.6"/>
<line x1="658.00" y1="600.93" x2="658.00" y2="598.69" stroke="#111" stroke-width="0.6"/>
<line x1="656.80" y1="598.69" x2="659.20" y2="598.69" stroke="#111" stroke-width="0.6"/>
<line x1="656.80" y1="600.93" x2="659.20" y2="600.93" stroke="#111" stroke-width="0.6"/>
<circle cx="658.00" cy="598.86" r="0.95" fill="#000"/>
<circle cx="657.20" cy="600.37" r="0.95" fill="#000"/>
<circle cx="658.60" cy="599.70" r="0.95" fill="#000"/>
<rect x="663.10" y="653.09" width="4.60" height="8.41" fill="#e88de9" stroke="#4a4a4a" stroke-width="0.6"/>
<line x1="665.40" y1="654.77" x2="665.40" y2="651.41" stroke="#111" stroke-width="0.6"/>
<line x1="664.20" y1="651.41" x2="666.60" y2="651.41" stroke="#111" stroke-width="0.6"/>
<line x1="664.20" y1="654.77" x2="666.60" y2="654.77" stroke="#111" stroke-width="0.6"/>
<circle cx="665.40" cy="651.66" r="0.95" fill="#000"/>
<circle cx="664.60" cy="653.93" r="0.95" fill="#000"/>
<circle cx="666.00" cy="652.92" r="0.95" fill="#000"/>
<rect x="670.80" y="621.12" width="4.60" height="40.38" fill="#e06b76" stroke="#4a4a4a" stroke-width="0.6"/>
<line x1="673.10" y1="622.80" x2="673.10" y2="619.44" stroke="#111" stroke-width="0.6"/>
<line x1="671.90" y1="619.44" x2="674.30" y2="619.44" stroke="#111" stroke-width="0.6"/>
<line x1="671.90" y1="622.80" x2="674.30" y2="622.80" stroke="#111" stroke-width="0.6"/>
<circle cx="673.10" cy="619.69" r="0.95" fill="#000"/>
<circle cx="672.30" cy="621.96" r="0.95" fill="#000"/>
<circle cx="673.70" cy="620.95" r="0.95" fill="#000"/>
<line x1="661.50" y1="661.50" x2="661.50" y2="665.30" stroke="#8a8a8a" stroke-width="0.9"/>
<text x="483.20" y="675.60" font-size="8.7" fill="#231f20" text-anchor="middle" font-family="Liberation Sans" >H558R</text>
<text x="483.20" y="686.40" font-size="8.8" fill="#231f20" text-anchor="middle" font-family="Liberation Sans" >(CA<tspan font-size="6.34" baseline-shift="-2.82">5</tspan>C)</text>
<text x="518.86" y="675.60" font-size="8.7" fill="#231f20" text-anchor="middle" font-family="Liberation Sans" >I1835T</text>
<text x="518.86" y="686.40" font-size="8.8" fill="#231f20" text-anchor="middle" font-family="Liberation Sans" >(GA<tspan font-size="6.34" baseline-shift="-2.82">5</tspan>T)</text>
<text x="554.52" y="675.60" font-size="8.7" fill="#231f20" text-anchor="middle" font-family="Liberation Sans" >T76A</text>
<text x="554.52" y="686.40" font-size="8.8" fill="#231f20" text-anchor="middle" font-family="Liberation Sans" >(AA<tspan font-size="6.34" baseline-shift="-2.82">5</tspan>C)</text>
<text x="590.18" y="675.60" font-size="8.7" fill="#231f20" text-anchor="middle" font-family="Liberation Sans" >E95G</text>
<text x="590.18" y="686.40" font-size="8.8" fill="#231f20" text-anchor="middle" font-family="Liberation Sans" >(GA<tspan font-size="6.34" baseline-shift="-2.82">5</tspan>G)</text>
<text x="625.84" y="675.60" font-size="8.7" fill="#231f20" text-anchor="middle" font-family="Liberation Sans" >Y542C</text>
<text x="625.84" y="686.40" font-size="8.8" fill="#231f20" text-anchor="middle" font-family="Liberation Sans" >(TA<tspan font-size="6.34" baseline-shift="-2.82">7</tspan>C)</text>
<text x="661.50" y="675.60" font-size="8.7" fill="#231f20" text-anchor="middle" font-family="Liberation Sans" >D673G</text>
<text x="661.50" y="686.40" font-size="8.8" fill="#231f20" text-anchor="middle" font-family="Liberation Sans" >(GA<tspan font-size="6.34" baseline-shift="-2.82">6</tspan>C)</text>
<text x="572.60" y="494.20" font-size="9.1" fill="#231f20" text-anchor="middle" font-family="Liberation Sans" >Fold change in precision editing</text>
<text x="572.60" y="504.20" font-size="8.8" fill="#231f20" text-anchor="middle" font-family="Liberation Sans" >(relative to ABE7.10)</text>
<text x="572.60" y="514.40" font-size="9.05" fill="#231f20" text-anchor="middle" font-family="Liberation Sans" >at SNVs of clinical interest</text>
<rect x="603.90" y="528.90" width="7.10" height="6.50" fill="#c2d57a" stroke="#555" stroke-width="0.6"/>
<text x="614.80" y="534.80" font-size="8.05" fill="#231f20" text-anchor="start" font-family="Liberation Sans" >ABE7.10-HK</text>
<rect x="603.90" y="540.05" width="7.10" height="6.50" fill="#62c7b0" stroke="#555" stroke-width="0.6"/>
<text x="614.80" y="546.02" font-size="8.05" fill="#231f20" text-anchor="start" font-family="Liberation Sans" >ABE7.10-HRHSK</text>
<rect x="603.90" y="551.20" width="7.10" height="6.50" fill="#e88de9" stroke="#555" stroke-width="0.6"/>
<text x="614.80" y="557.24" font-size="8.05" fill="#231f20" text-anchor="start" font-family="Liberation Sans" >ABE8e</text>
<rect x="603.90" y="562.35" width="7.10" height="6.50" fill="#e06b76" stroke="#555" stroke-width="0.6"/>
<text x="614.80" y="568.46" font-size="8.05" fill="#231f20" text-anchor="start" font-family="Liberation Sans" >ABE8.20</text>
<text x="430.20" y="586.50" font-size="8.45" fill="#231f20" text-anchor="middle" font-family="Liberation Sans" transform="rotate(-90 430.20 586.50)" >Fold change increase in precision</text>
<text x="440.20" y="587.00" font-size="8.4" fill="#231f20" text-anchor="middle" font-family="Liberation Sans" transform="rotate(-90 440.20 587.00)" >editing with respect to ABE7.10</text>
<path d="M468.40,692.60 V697.60 H533.20 V692.60" fill="none" stroke="#777" stroke-width="0.9"/>
<line x1="500.80" y1="697.60" x2="500.80" y2="701.60" stroke="#777" stroke-width="0.9"/>
<path d="M538.30,692.60 V697.60 H678.30 V692.60" fill="none" stroke="#777" stroke-width="0.9"/>
<line x1="608.30" y1="697.60" x2="608.30" y2="701.60" stroke="#777" stroke-width="0.9"/>
<text x="501.00" y="713.60" font-size="8.5" fill="#231f20" text-anchor="middle" font-family="Liberation Sans" >SCN5A</text>
<text x="608.40" y="713.60" font-size="8.5" fill="#231f20" text-anchor="middle" font-family="Liberation Sans" >ERCC2</text>
<line x1="44.30" y1="395.30" x2="44.30" y2="536.50" stroke="#8a8a8a" stroke-width="0.9"/>
<line x1="40.10" y1="536.50" x2="44.30" y2="536.50" stroke="#8a8a8a" stroke-width="0.9"/>
<text x="36.60" y="539.40" font-size="8.1" fill="#262626" text-anchor="end" font-family="Liberation Sans" >0</text>
<line x1="40.10" y1="501.20" x2="44.30" y2="501.20" stroke="#8a8a8a" stroke-width="0.9"/>
<text x="36.60" y="504.10" font-size="8.1" fill="#262626" text-anchor="end" font-family="Liberation Sans" >10</text>
<line x1="40.10" y1="465.90" x2="44.30" y2="465.90" stroke="#8a8a8a" stroke-width="0.9"/>
<text x="36.60" y="468.80" font-size="8.1" fill="#262626" text-anchor="end" font-family="Liberation Sans" >20</text>
<line x1="40.10" y1="430.60" x2="44.30" y2="430.60" stroke="#8a8a8a" stroke-width="0.9"/>
<text x="36.60" y="433.50" font-size="8.1" fill="#262626" text-anchor="end" font-family="Liberation Sans" >30</text>
<line x1="40.10" y1="395.30" x2="44.30" y2="395.30" stroke="#8a8a8a" stroke-width="0.9"/>
<text x="36.60" y="398.20" font-size="8.1" fill="#262626" text-anchor="end" font-family="Liberation Sans" >40</text>
<line x1="44.30" y1="536.50" x2="232.20" y2="536.50" stroke="#8a8a8a" stroke-width="0.9"/>
<rect x="48.20" y="510.73" width="7.50" height="25.77" fill="#157d78" stroke="#666" stroke-width="0.6"/>
<line x1="51.95" y1="517.44" x2="51.95" y2="501.91" stroke="#444" stroke-width="0.6"/>
<line x1="49.95" y1="501.91" x2="53.95" y2="501.91" stroke="#444" stroke-width="0.6"/>
<line x1="49.95" y1="517.44" x2="53.95" y2="517.44" stroke="#444" stroke-width="0.6"/>
<circle cx="51.95" cy="500.85" r="1.65" fill="#000"/>
<circle cx="49.75" cy="511.08" r="1.65" fill="#000"/>
<circle cx="52.35" cy="517.09" r="1.65" fill="#000"/>
<rect x="60.50" y="518.85" width="7.50" height="17.65" fill="#ff0066" stroke="#666" stroke-width="0.6"/>
<line x1="64.25" y1="523.09" x2="64.25" y2="514.61" stroke="#444" stroke-width="0.6"/>
<line x1="62.25" y1="514.61" x2="66.25" y2="514.61" stroke="#444" stroke-width="0.6"/>
<line x1="62.25" y1="523.09" x2="66.25" y2="523.09" stroke="#444" stroke-width="0.6"/>
<circle cx="64.25" cy="513.55" r="1.65" fill="#000"/>
<circle cx="62.05" cy="518.85" r="1.65" fill="#000"/>
<circle cx="64.65" cy="523.09" r="1.65" fill="#000"/>
<line x1="58.10" y1="536.50" x2="58.10" y2="540.30" stroke="#8a8a8a" stroke-width="0.9"/>
<rect x="80.30" y="481.43" width="7.50" height="55.07" fill="#157d78" stroke="#666" stroke-width="0.6"/>
<line x1="84.05" y1="500.49" x2="84.05" y2="460.25" stroke="#444" stroke-width="0.6"/>
<line x1="82.05" y1="460.25" x2="86.05" y2="460.25" stroke="#444" stroke-width="0.6"/>
<line x1="82.05" y1="500.49" x2="86.05" y2="500.49" stroke="#444" stroke-width="0.6"/>
<circle cx="84.05" cy="458.49" r="1.65" fill="#000"/>
<circle cx="81.85" cy="487.08" r="1.65" fill="#000"/>
<circle cx="84.45" cy="496.96" r="1.65" fill="#000"/>
<rect x="92.60" y="517.44" width="7.50" height="19.06" fill="#ff0066" stroke="#666" stroke-width="0.6"/>
<line x1="96.35" y1="525.20" x2="96.35" y2="509.67" stroke="#444" stroke-width="0.6"/>
<line x1="94.35" y1="509.67" x2="98.35" y2="509.67" stroke="#444" stroke-width="0.6"/>
<line x1="94.35" y1="525.20" x2="98.35" y2="525.20" stroke="#444" stroke-width="0.6"/>
<circle cx="96.35" cy="508.97" r="1.65" fill="#000"/>
<circle cx="94.15" cy="517.79" r="1.65" fill="#000"/>
<circle cx="96.75" cy="524.14" r="1.65" fill="#000"/>
<line x1="90.20" y1="536.50" x2="90.20" y2="540.30" stroke="#8a8a8a" stroke-width="0.9"/>
<rect x="112.40" y="485.67" width="7.50" height="50.83" fill="#157d78" stroke="#666" stroke-width="0.6"/>
<line x1="116.15" y1="502.61" x2="116.15" y2="468.72" stroke="#444" stroke-width="0.6"/>
<line x1="114.15" y1="468.72" x2="118.15" y2="468.72" stroke="#444" stroke-width="0.6"/>
<line x1="114.15" y1="502.61" x2="118.15" y2="502.61" stroke="#444" stroke-width="0.6"/>
<circle cx="116.15" cy="468.37" r="1.65" fill="#000"/>
<circle cx="113.95" cy="487.08" r="1.65" fill="#000"/>
<circle cx="116.55" cy="500.49" r="1.65" fill="#000"/>
<rect x="124.70" y="506.85" width="7.50" height="29.65" fill="#ff0066" stroke="#666" stroke-width="0.6"/>
<line x1="128.45" y1="522.38" x2="128.45" y2="491.32" stroke="#444" stroke-width="0.6"/>
<line x1="126.45" y1="491.32" x2="130.45" y2="491.32" stroke="#444" stroke-width="0.6"/>
<line x1="126.45" y1="522.38" x2="130.45" y2="522.38" stroke="#444" stroke-width="0.6"/>
<circle cx="128.45" cy="488.85" r="1.65" fill="#000"/>
<circle cx="126.25" cy="510.02" r="1.65" fill="#000"/>
<circle cx="128.85" cy="522.38" r="1.65" fill="#000"/>
<line x1="122.30" y1="536.50" x2="122.30" y2="540.30" stroke="#8a8a8a" stroke-width="0.9"/>
<rect x="144.50" y="526.97" width="7.50" height="9.53" fill="#157d78" stroke="#666" stroke-width="0.6"/>
<line x1="148.25" y1="529.44" x2="148.25" y2="524.14" stroke="#444" stroke-width="0.6"/>
<line x1="146.25" y1="524.14" x2="150.25" y2="524.14" stroke="#444" stroke-width="0.6"/>
<line x1="146.25" y1="529.44" x2="150.25" y2="529.44" stroke="#444" stroke-width="0.6"/>
<circle cx="148.25" cy="523.09" r="1.65" fill="#000"/>
<circle cx="146.05" cy="527.67" r="1.65" fill="#000"/>
<circle cx="148.65" cy="525.91" r="1.65" fill="#000"/>
<rect x="156.80" y="437.31" width="7.50" height="99.19" fill="#ff0066" stroke="#666" stroke-width="0.6"/>
<line x1="160.55" y1="453.55" x2="160.55" y2="420.36" stroke="#444" stroke-width="0.6"/>
<line x1="158.55" y1="420.36" x2="162.55" y2="420.36" stroke="#444" stroke-width="0.6"/>
<line x1="158.55" y1="453.55" x2="162.55" y2="453.55" stroke="#444" stroke-width="0.6"/>
<circle cx="160.55" cy="456.02" r="1.65" fill="#000"/>
<circle cx="158.35" cy="426.36" r="1.65" fill="#000"/>
<circle cx="160.95" cy="428.84" r="1.65" fill="#000"/>
<line x1="154.40" y1="536.50" x2="154.40" y2="540.30" stroke="#8a8a8a" stroke-width="0.9"/>
<rect x="176.60" y="520.62" width="7.50" height="15.88" fill="#157d78" stroke="#666" stroke-width="0.6"/>
<line x1="180.35" y1="529.44" x2="180.35" y2="511.44" stroke="#444" stroke-width="0.6"/>
<line x1="178.35" y1="511.44" x2="182.35" y2="511.44" stroke="#444" stroke-width="0.6"/>
<line x1="178.35" y1="529.44" x2="182.35" y2="529.44" stroke="#444" stroke-width="0.6"/>
<circle cx="180.35" cy="510.73" r="1.65" fill="#000"/>
<circle cx="178.15" cy="522.38" r="1.65" fill="#000"/>
<circle cx="180.75" cy="528.73" r="1.65" fill="#000"/>
<rect x="188.90" y="448.60" width="7.50" height="87.90" fill="#ff0066" stroke="#666" stroke-width="0.6"/>
<line x1="192.65" y1="469.08" x2="192.65" y2="428.48" stroke="#444" stroke-width="0.6"/>
<line x1="190.65" y1="428.48" x2="194.65" y2="428.48" stroke="#444" stroke-width="0.6"/>
<line x1="190.65" y1="469.08" x2="194.65" y2="469.08" stroke="#444" stroke-width="0.6"/>
<circle cx="192.65" cy="427.78" r="1.65" fill="#000"/>
<circle cx="190.45" cy="448.96" r="1.65" fill="#000"/>
<circle cx="193.05" cy="467.31" r="1.65" fill="#000"/>
<line x1="186.50" y1="536.50" x2="186.50" y2="540.30" stroke="#8a8a8a" stroke-width="0.9"/>
<circle cx="209.85" cy="536.50" r="1.3" fill="#000"/>
<circle cx="212.45" cy="536.50" r="1.3" fill="#000"/>
<circle cx="215.05" cy="536.50" r="1.3" fill="#000"/>
<circle cx="222.15" cy="536.50" r="1.3" fill="#000"/>
<circle cx="224.75" cy="536.50" r="1.3" fill="#000"/>
<circle cx="227.35" cy="536.50" r="1.3" fill="#000"/>
<line x1="218.60" y1="536.50" x2="218.60" y2="540.30" stroke="#8a8a8a" stroke-width="0.9"/>
<text x="138.60" y="372.30" font-size="8.4" fill="#231f20" text-anchor="middle" font-family="Liberation Sans" >ERCC2 E95G SpRY variants</text>
<text x="138.50" y="382.90" font-size="8.5" fill="#231f20" text-anchor="middle" font-family="Liberation Sans" >T<tspan fill="#f0308c">A</tspan>TG<tspan fill="#26a6a6">A<tspan font-size="6.12" baseline-shift="-2.72">5</tspan></tspan>G<tspan fill="#f0308c">AA</tspan>GC<tspan fill="#f0308c">A</tspan>GG<tspan fill="#f0308c">A</tspan>GGGCG<tspan fill="#f0308c">A</tspan></text>
<rect x="54.50" y="400.00" width="7.30" height="6.70" fill="#157d78" stroke="#555" stroke-width="0.5"/>
<rect x="54.50" y="413.00" width="7.30" height="6.70" fill="#ff0066" stroke="#555" stroke-width="0.5"/>
<text x="65.60" y="406.10" font-size="8.9" fill="#231f20" text-anchor="start" font-family="Liberation Sans" >Desired edit</text>
<text x="65.60" y="419.50" font-size="9.0" fill="#231f20" text-anchor="start" font-family="Liberation Sans" >Undesired edit</text>
<text x="9.00" y="465.80" font-size="8.9" fill="#231f20" text-anchor="middle" font-family="Liberation Sans" transform="rotate(-90 9.00 465.80)" >Sequencing reads</text>
<text x="19.70" y="465.40" font-size="8.9" fill="#231f20" text-anchor="middle" font-family="Liberation Sans" transform="rotate(-90 19.70 465.40)" >with allele change (%)</text>
<text x="60.60" y="548.20" font-size="8.25" fill="#231f20" text-anchor="end" font-family="Liberation Sans" transform="rotate(-45 60.60 548.20)" >ABE7.10</text>
<text x="92.70" y="548.20" font-size="8.25" fill="#231f20" text-anchor="end" font-family="Liberation Sans" transform="rotate(-45 92.70 548.20)" >ABE7.10-HK</text>
<text x="124.80" y="548.20" font-size="8.25" fill="#231f20" text-anchor="end" font-family="Liberation Sans" transform="rotate(-45 124.80 548.20)" >ABE7.10-HRHSK</text>
<text x="156.90" y="548.20" font-size="8.25" fill="#231f20" text-anchor="end" font-family="Liberation Sans" transform="rotate(-45 156.90 548.20)" >ABE8e</text>
<text x="189.00" y="548.20" font-size="8.25" fill="#231f20" text-anchor="end" font-family="Liberation Sans" transform="rotate(-45 189.00 548.20)" >ABE8.20</text>
<text x="221.10" y="548.20" font-size="8.25" fill="#231f20" text-anchor="end" font-family="Liberation Sans" transform="rotate(-45 221.10 548.20)" >NT</text>
<line x1="281.00" y1="400.38" x2="281.00" y2="536.40" stroke="#8a8a8a" stroke-width="0.9"/>
<line x1="276.90" y1="536.40" x2="281.00" y2="536.40" stroke="#8a8a8a" stroke-width="0.9"/>
<text x="273.40" y="539.30" font-size="8.1" fill="#262626" text-anchor="end" font-family="Liberation Sans" >0</text>
<line x1="276.90" y1="513.73" x2="281.00" y2="513.73" stroke="#8a8a8a" stroke-width="0.9"/>
<text x="273.40" y="516.63" font-size="8.1" fill="#262626" text-anchor="end" font-family="Liberation Sans" >0.2</text>
<line x1="276.90" y1="491.06" x2="281.00" y2="491.06" stroke="#8a8a8a" stroke-width="0.9"/>
<text x="273.40" y="493.96" font-size="8.1" fill="#262626" text-anchor="end" font-family="Liberation Sans" >0.4</text>
<line x1="276.90" y1="468.39" x2="281.00" y2="468.39" stroke="#8a8a8a" stroke-width="0.9"/>
<text x="273.40" y="471.29" font-size="8.1" fill="#262626" text-anchor="end" font-family="Liberation Sans" >0.6</text>
<line x1="276.90" y1="445.72" x2="281.00" y2="445.72" stroke="#8a8a8a" stroke-width="0.9"/>
<text x="273.40" y="448.62" font-size="8.1" fill="#262626" text-anchor="end" font-family="Liberation Sans" >0.8</text>
<line x1="276.90" y1="423.05" x2="281.00" y2="423.05" stroke="#8a8a8a" stroke-width="0.9"/>
<text x="273.40" y="425.95" font-size="8.1" fill="#262626" text-anchor="end" font-family="Liberation Sans" >1.0</text>
<line x1="276.90" y1="400.38" x2="281.00" y2="400.38" stroke="#8a8a8a" stroke-width="0.9"/>
<text x="273.40" y="403.28" font-size="8.1" fill="#262626" text-anchor="end" font-family="Liberation Sans" >1.2</text>
<line x1="281.00" y1="536.40" x2="400.10" y2="536.40" stroke="#8a8a8a" stroke-width="0.9"/>
<rect x="289.00" y="423.05" width="14.60" height="46.81" fill="#ff0066" stroke="#555" stroke-width="0.5"/>
<rect x="289.00" y="469.86" width="14.60" height="66.54" fill="#157d78" stroke="#555" stroke-width="0.5"/>
<line x1="296.30" y1="471.79" x2="296.30" y2="467.26" stroke="#222" stroke-width="0.6"/>
<line x1="293.30" y1="467.26" x2="299.30" y2="467.26" stroke="#222" stroke-width="0.6"/>
<line x1="293.30" y1="471.79" x2="299.30" y2="471.79" stroke="#222" stroke-width="0.6"/>
<line x1="296.30" y1="425.32" x2="296.30" y2="420.78" stroke="#222" stroke-width="0.6"/>
<line x1="293.30" y1="420.78" x2="299.30" y2="420.78" stroke="#222" stroke-width="0.6"/>
<line x1="293.30" y1="425.32" x2="299.30" y2="425.32" stroke="#222" stroke-width="0.6"/>
<line x1="296.30" y1="536.40" x2="296.30" y2="540.20" stroke="#8a8a8a" stroke-width="0.9"/>
<rect x="311.15" y="423.05" width="14.60" height="29.81" fill="#ff0066" stroke="#555" stroke-width="0.5"/>
<rect x="311.15" y="452.86" width="14.60" height="83.54" fill="#157d78" stroke="#555" stroke-width="0.5"/>
<line x1="318.45" y1="453.65" x2="318.45" y2="452.29" stroke="#222" stroke-width="0.6"/>
<line x1="315.45" y1="452.29" x2="321.45" y2="452.29" stroke="#222" stroke-width="0.6"/>
<line x1="315.45" y1="453.65" x2="321.45" y2="453.65" stroke="#222" stroke-width="0.6"/>
<line x1="318.45" y1="423.62" x2="318.45" y2="422.14" stroke="#222" stroke-width="0.6"/>
<line x1="315.45" y1="422.14" x2="321.45" y2="422.14" stroke="#222" stroke-width="0.6"/>
<line x1="315.45" y1="423.62" x2="321.45" y2="423.62" stroke="#222" stroke-width="0.6"/>
<line x1="318.45" y1="536.40" x2="318.45" y2="540.20" stroke="#8a8a8a" stroke-width="0.9"/>
<rect x="333.30" y="423.05" width="14.60" height="41.37" fill="#ff0066" stroke="#555" stroke-width="0.5"/>
<rect x="333.30" y="464.42" width="14.60" height="71.98" fill="#157d78" stroke="#555" stroke-width="0.5"/>
<line x1="340.60" y1="468.96" x2="340.60" y2="458.19" stroke="#222" stroke-width="0.6"/>
<line x1="337.60" y1="458.19" x2="343.60" y2="458.19" stroke="#222" stroke-width="0.6"/>
<line x1="337.60" y1="468.96" x2="343.60" y2="468.96" stroke="#222" stroke-width="0.6"/>
<line x1="340.60" y1="427.58" x2="340.60" y2="417.38" stroke="#222" stroke-width="0.6"/>
<line x1="337.60" y1="417.38" x2="343.60" y2="417.38" stroke="#222" stroke-width="0.6"/>
<line x1="337.60" y1="427.58" x2="343.60" y2="427.58" stroke="#222" stroke-width="0.6"/>
<line x1="340.60" y1="536.40" x2="340.60" y2="540.20" stroke="#8a8a8a" stroke-width="0.9"/>
<rect x="355.45" y="423.05" width="14.60" height="103.49" fill="#ff0066" stroke="#555" stroke-width="0.5"/>
<rect x="355.45" y="526.54" width="14.60" height="9.86" fill="#157d78" stroke="#555" stroke-width="0.5"/>
<line x1="362.75" y1="527.33" x2="362.75" y2="525.06" stroke="#222" stroke-width="0.6"/>
<line x1="359.75" y1="525.06" x2="365.75" y2="525.06" stroke="#222" stroke-width="0.6"/>
<line x1="359.75" y1="527.33" x2="365.75" y2="527.33" stroke="#222" stroke-width="0.6"/>
<line x1="362.75" y1="423.84" x2="362.75" y2="421.69" stroke="#222" stroke-width="0.6"/>
<line x1="359.75" y1="421.69" x2="365.75" y2="421.69" stroke="#222" stroke-width="0.6"/>
<line x1="359.75" y1="423.84" x2="365.75" y2="423.84" stroke="#222" stroke-width="0.6"/>
<line x1="362.75" y1="536.40" x2="362.75" y2="540.20" stroke="#8a8a8a" stroke-width="0.9"/>
<rect x="377.60" y="423.05" width="14.60" height="97.25" fill="#ff0066" stroke="#555" stroke-width="0.5"/>
<rect x="377.60" y="520.30" width="14.60" height="16.10" fill="#157d78" stroke="#555" stroke-width="0.5"/>
<line x1="384.90" y1="523.93" x2="384.90" y2="514.30" stroke="#222" stroke-width="0.6"/>
<line x1="381.90" y1="514.30" x2="387.90" y2="514.30" stroke="#222" stroke-width="0.6"/>
<line x1="381.90" y1="523.93" x2="387.90" y2="523.93" stroke="#222" stroke-width="0.6"/>
<line x1="384.90" y1="427.58" x2="384.90" y2="417.95" stroke="#222" stroke-width="0.6"/>
<line x1="381.90" y1="417.95" x2="387.90" y2="417.95" stroke="#222" stroke-width="0.6"/>
<line x1="381.90" y1="427.58" x2="387.90" y2="427.58" stroke="#222" stroke-width="0.6"/>
<line x1="384.90" y1="536.40" x2="384.90" y2="540.20" stroke="#8a8a8a" stroke-width="0.9"/>
<text x="340.90" y="373.20" font-size="8.45" fill="#231f20" text-anchor="middle" font-family="Liberation Sans" >ERCC2 E95G SpRY variants</text>
<text x="340.90" y="383.80" font-size="9.05" fill="#231f20" text-anchor="middle" font-family="Liberation Sans" >precision scores</text>
<rect x="289.10" y="393.60" width="8.00" height="7.00" fill="#157d78"/>
<rect x="289.10" y="406.30" width="8.00" height="7.00" fill="#ff0066"/>
<text x="300.80" y="399.90" font-size="9.07" fill="#231f20" text-anchor="start" font-family="Liberation Sans" >Desired edit</text>
<text x="300.80" y="412.40" font-size="9.07" fill="#231f20" text-anchor="start" font-family="Liberation Sans" >Undesired edit</text>
<text x="256.20" y="468.40" font-size="9.2" fill="#231f20" text-anchor="middle" font-family="Liberation Sans" transform="rotate(-90 256.20 468.40)" >Normalized editing efficiency</text>
<text x="298.90" y="548.20" font-size="8.25" fill="#231f20" text-anchor="end" font-family="Liberation Sans" transform="rotate(-45 298.90 548.20)" >ABE7.10</text>
<text x="321.05" y="548.20" font-size="8.25" fill="#231f20" text-anchor="end" font-family="Liberation Sans" transform="rotate(-45 321.05 548.20)" >ABE7.10-HK</text>
<text x="343.20" y="548.20" font-size="8.25" fill="#231f20" text-anchor="end" font-family="Liberation Sans" transform="rotate(-45 343.20 548.20)" >ABE7.10-HRHSK</text>
<text x="365.35" y="548.20" font-size="8.25" fill="#231f20" text-anchor="end" font-family="Liberation Sans" transform="rotate(-45 365.35 548.20)" >ABE8e</text>
<text x="387.50" y="548.20" font-size="8.25" fill="#231f20" text-anchor="end" font-family="Liberation Sans" transform="rotate(-45 387.50 548.20)" >ABE8.20</text>
</svg>
</body></html>
